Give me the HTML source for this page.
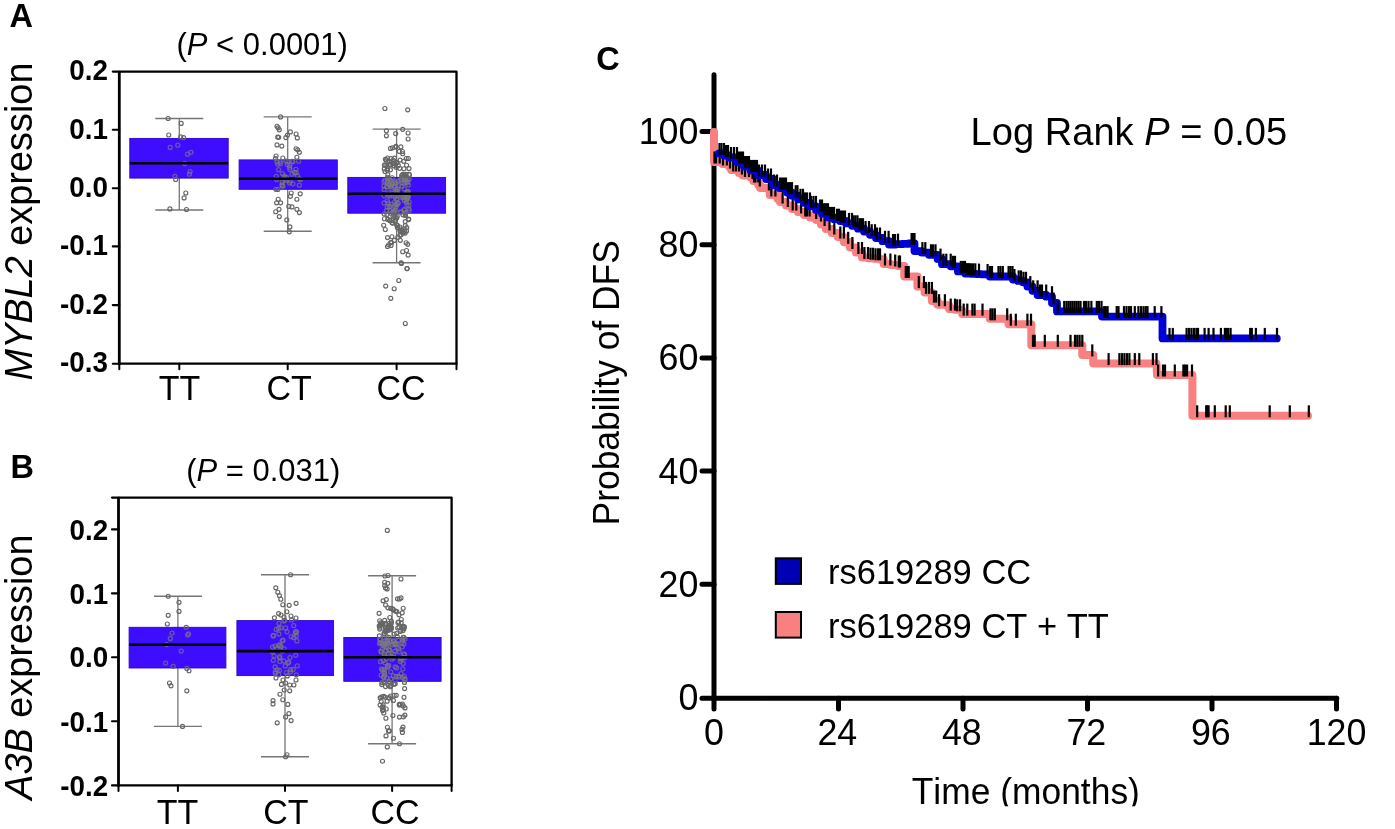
<!DOCTYPE html>
<html><head><meta charset="utf-8"><style>html,body{margin:0;padding:0;background:#fff;}svg{display:block;will-change:transform;} text{font-kerning:none;}</style></head>
<body>
<svg width="1395" height="829" viewBox="0 0 1395 829">
<rect width="1395" height="829" fill="#fff"/>
<text transform="translate(9.50,26.80) scale(1,1.035)" font-family="Liberation Sans, sans-serif" font-size="32.5" font-weight="bold">A</text>
<text transform="translate(10.60,477.80) scale(1,1.035)" font-family="Liberation Sans, sans-serif" font-size="32.5" font-weight="bold">B</text>
<text transform="translate(596.30,69.80) scale(1,1.035)" font-family="Liberation Sans, sans-serif" font-size="32.5" font-weight="bold">C</text>
<text transform="translate(262.20,54.80) scale(1,1.035)" font-family="Liberation Sans, sans-serif" font-size="31" text-anchor="middle">(<tspan font-style="italic">P</tspan> &lt; 0.0001)</text>
<text transform="translate(263.30,480.50) scale(1,1.035)" font-family="Liberation Sans, sans-serif" font-size="31" text-anchor="middle">(<tspan font-style="italic">P</tspan> = 0.031)</text>
<text transform="translate(31.60,221.50) rotate(-90) scale(1,1.035)" font-family="Liberation Sans, sans-serif" font-size="37.9" text-anchor="middle"><tspan font-style="italic">MYBL2</tspan> expression</text>
<text transform="translate(31.60,667.20) rotate(-90) scale(1,1.035)" font-family="Liberation Sans, sans-serif" font-size="37.9" text-anchor="middle"><tspan font-style="italic">A3B</tspan> expression</text>
<path d="M119.3,71.6 H456.5 V363.7" fill="none" stroke="#000" stroke-width="2.3" stroke-linejoin="round"/>
<line x1="179.3" y1="118.5" x2="179.3" y2="210" stroke="#767676" stroke-width="1.3"/>
<line x1="155.3" y1="118.5" x2="203.3" y2="118.5" stroke="#767676" stroke-width="1.4"/>
<line x1="155.3" y1="210" x2="203.3" y2="210" stroke="#767676" stroke-width="1.4"/>
<rect x="129.8" y="138.4" width="98.39999999999998" height="39.69999999999999" fill="#3e0dff" stroke="#2c06c8" stroke-width="0.9"/>
<line x1="287.7" y1="116.9" x2="287.7" y2="231.3" stroke="#767676" stroke-width="1.3"/>
<line x1="263.7" y1="116.9" x2="311.7" y2="116.9" stroke="#767676" stroke-width="1.4"/>
<line x1="263.7" y1="231.3" x2="311.7" y2="231.3" stroke="#767676" stroke-width="1.4"/>
<rect x="239.1" y="159.9" width="98.20000000000002" height="29.400000000000006" fill="#3e0dff" stroke="#2c06c8" stroke-width="0.9"/>
<line x1="396.6" y1="129.1" x2="396.6" y2="262.7" stroke="#767676" stroke-width="1.3"/>
<line x1="372.6" y1="129.1" x2="420.6" y2="129.1" stroke="#767676" stroke-width="1.4"/>
<line x1="372.6" y1="262.7" x2="420.6" y2="262.7" stroke="#767676" stroke-width="1.4"/>
<rect x="347.8" y="177.4" width="97.80000000000001" height="35.79999999999998" fill="#3e0dff" stroke="#2c06c8" stroke-width="0.9"/>
<clipPath id="ca"><rect x="130.3" y="138.9" width="97.39999999999998" height="38.69999999999999"/><rect x="239.6" y="160.4" width="97.20000000000002" height="28.400000000000006"/><rect x="348.3" y="177.9" width="96.80000000000001" height="34.79999999999998"/></clipPath>
<clipPath id="cao"><path d="M0,0 H1395 V829 H0 Z M130.3,138.9 h97.39999999999998 v38.69999999999999 h-97.39999999999998 Z M239.6,160.4 h97.20000000000002 v28.400000000000006 h-97.20000000000002 Z M348.3,177.9 h96.80000000000001 v34.79999999999998 h-96.80000000000001 Z" clip-rule="evenodd"/></clipPath>
<g clip-path="url(#cao)" fill="none" stroke="#666666" stroke-width="1.15"><circle cx="168.1" cy="118.5" r="2.0"/><circle cx="181.2" cy="123.4" r="2.0"/><circle cx="168.7" cy="135.0" r="2.0"/><circle cx="180.7" cy="136.8" r="2.0"/><circle cx="183.6" cy="137.6" r="2.0"/><circle cx="170.2" cy="147.4" r="2.0"/><circle cx="177.8" cy="145.2" r="2.0"/><circle cx="187.5" cy="154.2" r="2.0"/><circle cx="190.9" cy="152.3" r="2.0"/><circle cx="184.6" cy="163.6" r="2.0"/><circle cx="190.1" cy="171.6" r="2.0"/><circle cx="189.4" cy="174.2" r="2.0"/><circle cx="174.9" cy="176.4" r="2.0"/><circle cx="175.7" cy="179.5" r="2.0"/><circle cx="185.8" cy="193.0" r="2.0"/><circle cx="184.1" cy="197.9" r="2.0"/><circle cx="169.9" cy="208.9" r="2.0"/><circle cx="186.5" cy="209.5" r="2.0"/><circle cx="280.6" cy="116.9" r="2.0"/><circle cx="277.0" cy="126.2" r="2.0"/><circle cx="278.2" cy="127.8" r="2.0"/><circle cx="279.3" cy="129.8" r="2.0"/><circle cx="290.4" cy="131.9" r="2.0"/><circle cx="287.5" cy="135.1" r="2.0"/><circle cx="285.8" cy="137.6" r="2.0"/><circle cx="296.1" cy="134.0" r="2.0"/><circle cx="297.3" cy="137.9" r="2.0"/><circle cx="277.7" cy="137.1" r="2.0"/><circle cx="278.7" cy="137.3" r="2.0"/><circle cx="277.0" cy="144.9" r="2.0"/><circle cx="281.8" cy="146.1" r="2.0"/><circle cx="296.1" cy="148.7" r="2.0"/><circle cx="297.7" cy="149.8" r="2.0"/><circle cx="299.4" cy="152.3" r="2.0"/><circle cx="276.1" cy="156.0" r="2.0"/><circle cx="275.4" cy="158.5" r="2.0"/><circle cx="282.8" cy="158.0" r="2.0"/><circle cx="296.9" cy="157.2" r="2.0"/><circle cx="298.6" cy="161.2" r="2.0"/><circle cx="291.2" cy="193.0" r="2.0"/><circle cx="300.2" cy="193.8" r="2.0"/><circle cx="290.4" cy="196.3" r="2.0"/><circle cx="296.9" cy="199.2" r="2.0"/><circle cx="278.2" cy="199.2" r="2.0"/><circle cx="276.6" cy="202.8" r="2.0"/><circle cx="280.6" cy="202.8" r="2.0"/><circle cx="288.8" cy="206.4" r="2.0"/><circle cx="292.0" cy="206.9" r="2.0"/><circle cx="296.9" cy="209.3" r="2.0"/><circle cx="299.4" cy="212.6" r="2.0"/><circle cx="279.0" cy="209.3" r="2.0"/><circle cx="275.7" cy="211.7" r="2.0"/><circle cx="279.3" cy="216.6" r="2.0"/><circle cx="286.8" cy="219.9" r="2.0"/><circle cx="289.9" cy="226.9" r="2.0"/><circle cx="289.3" cy="231.8" r="2.0"/><circle cx="278.6" cy="169.7" r="2.0"/><circle cx="276.6" cy="179.5" r="2.0"/><circle cx="284.2" cy="176.1" r="2.0"/><circle cx="287.9" cy="161.7" r="2.0"/><circle cx="286.0" cy="161.1" r="2.0"/><circle cx="277.1" cy="162.1" r="2.0"/><circle cx="296.2" cy="172.7" r="2.0"/><circle cx="280.5" cy="163.7" r="2.0"/><circle cx="299.3" cy="178.8" r="2.0"/><circle cx="285.0" cy="177.3" r="2.0"/><circle cx="275.9" cy="189.3" r="2.0"/><circle cx="282.2" cy="185.8" r="2.0"/><circle cx="277.8" cy="164.3" r="2.0"/><circle cx="295.9" cy="169.3" r="2.0"/><circle cx="289.8" cy="165.4" r="2.0"/><circle cx="284.4" cy="179.2" r="2.0"/><circle cx="276.3" cy="176.4" r="2.0"/><circle cx="280.1" cy="161.8" r="2.0"/><circle cx="285.8" cy="180.4" r="2.0"/><circle cx="289.9" cy="169.4" r="2.0"/><circle cx="282.5" cy="173.6" r="2.0"/><circle cx="292.9" cy="183.8" r="2.0"/><circle cx="289.6" cy="167.3" r="2.0"/><circle cx="297.5" cy="175.8" r="2.0"/><circle cx="282.2" cy="181.9" r="2.0"/><circle cx="277.8" cy="189.4" r="2.0"/><circle cx="294.4" cy="172.5" r="2.0"/><circle cx="287.4" cy="164.6" r="2.0"/><circle cx="292.1" cy="161.2" r="2.0"/><circle cx="289.6" cy="182.9" r="2.0"/><circle cx="282.9" cy="186.3" r="2.0"/><circle cx="290.2" cy="180.9" r="2.0"/><circle cx="286.6" cy="177.4" r="2.0"/><circle cx="299.3" cy="185.2" r="2.0"/><circle cx="292.0" cy="174.2" r="2.0"/><circle cx="292.9" cy="161.8" r="2.0"/><circle cx="300.5" cy="179.4" r="2.0"/><circle cx="282.1" cy="184.7" r="2.0"/><circle cx="384.9" cy="108.5" r="2.0"/><circle cx="407.7" cy="109.8" r="2.0"/><circle cx="386.4" cy="130.8" r="2.0"/><circle cx="386.4" cy="135.8" r="2.0"/><circle cx="395.7" cy="133.6" r="2.0"/><circle cx="402.7" cy="129.3" r="2.0"/><circle cx="408.1" cy="133.0" r="2.0"/><circle cx="408.1" cy="139.0" r="2.0"/><circle cx="388.6" cy="244.7" r="2.0"/><circle cx="387.5" cy="246.5" r="2.0"/><circle cx="391.0" cy="245.5" r="2.0"/><circle cx="407.7" cy="244.3" r="2.0"/><circle cx="402.7" cy="251.7" r="2.0"/><circle cx="406.5" cy="250.5" r="2.0"/><circle cx="408.1" cy="255.1" r="2.0"/><circle cx="401.1" cy="262.7" r="2.0"/><circle cx="407.0" cy="268.6" r="2.0"/><circle cx="385.7" cy="286.1" r="2.0"/><circle cx="394.2" cy="288.7" r="2.0"/><circle cx="398.8" cy="280.5" r="2.0"/><circle cx="390.8" cy="298.3" r="2.0"/><circle cx="405.3" cy="323.5" r="2.0"/><circle cx="407.1" cy="268.6" r="2.0"/><circle cx="401.4" cy="263.4" r="2.0"/><circle cx="399.3" cy="151.4" r="2.0"/><circle cx="396.0" cy="146.3" r="2.0"/><circle cx="390.5" cy="148.4" r="2.0"/><circle cx="400.9" cy="146.8" r="2.0"/><circle cx="392.6" cy="147.8" r="2.0"/><circle cx="402.5" cy="151.5" r="2.0"/><circle cx="395.8" cy="147.1" r="2.0"/><circle cx="402.7" cy="153.7" r="2.0"/><circle cx="406.1" cy="174.4" r="2.0"/><circle cx="394.4" cy="163.6" r="2.0"/><circle cx="406.6" cy="165.2" r="2.0"/><circle cx="387.5" cy="177.2" r="2.0"/><circle cx="389.6" cy="161.5" r="2.0"/><circle cx="396.2" cy="162.7" r="2.0"/><circle cx="390.4" cy="169.8" r="2.0"/><circle cx="394.5" cy="158.1" r="2.0"/><circle cx="398.3" cy="165.4" r="2.0"/><circle cx="401.6" cy="177.1" r="2.0"/><circle cx="399.7" cy="168.3" r="2.0"/><circle cx="385.0" cy="171.5" r="2.0"/><circle cx="403.9" cy="176.0" r="2.0"/><circle cx="404.3" cy="175.5" r="2.0"/><circle cx="394.0" cy="165.8" r="2.0"/><circle cx="400.1" cy="160.1" r="2.0"/><circle cx="385.4" cy="159.2" r="2.0"/><circle cx="387.8" cy="162.2" r="2.0"/><circle cx="385.0" cy="164.8" r="2.0"/><circle cx="387.5" cy="158.0" r="2.0"/><circle cx="393.1" cy="160.0" r="2.0"/><circle cx="406.3" cy="158.5" r="2.0"/><circle cx="387.5" cy="170.3" r="2.0"/><circle cx="392.6" cy="163.0" r="2.0"/><circle cx="386.8" cy="165.3" r="2.0"/><circle cx="409.4" cy="175.0" r="2.0"/><circle cx="396.2" cy="167.3" r="2.0"/><circle cx="386.3" cy="159.7" r="2.0"/><circle cx="390.5" cy="164.9" r="2.0"/><circle cx="387.8" cy="174.6" r="2.0"/><circle cx="408.3" cy="158.5" r="2.0"/><circle cx="387.4" cy="168.6" r="2.0"/><circle cx="384.3" cy="168.9" r="2.0"/><circle cx="409.0" cy="168.6" r="2.0"/><circle cx="401.7" cy="175.3" r="2.0"/><circle cx="393.1" cy="163.2" r="2.0"/><circle cx="403.7" cy="161.3" r="2.0"/><circle cx="403.9" cy="168.7" r="2.0"/><circle cx="389.4" cy="164.6" r="2.0"/><circle cx="409.2" cy="174.2" r="2.0"/><circle cx="404.6" cy="175.1" r="2.0"/><circle cx="402.8" cy="174.4" r="2.0"/><circle cx="397.1" cy="162.5" r="2.0"/><circle cx="384.4" cy="165.1" r="2.0"/><circle cx="390.9" cy="158.6" r="2.0"/><circle cx="401.6" cy="186.3" r="2.0"/><circle cx="395.2" cy="211.4" r="2.0"/><circle cx="409.3" cy="210.7" r="2.0"/><circle cx="393.1" cy="211.4" r="2.0"/><circle cx="389.5" cy="184.9" r="2.0"/><circle cx="388.9" cy="184.1" r="2.0"/><circle cx="407.0" cy="199.5" r="2.0"/><circle cx="396.1" cy="207.3" r="2.0"/><circle cx="404.4" cy="200.5" r="2.0"/><circle cx="400.8" cy="180.1" r="2.0"/><circle cx="403.9" cy="209.8" r="2.0"/><circle cx="396.0" cy="204.0" r="2.0"/><circle cx="404.1" cy="183.4" r="2.0"/><circle cx="404.4" cy="189.0" r="2.0"/><circle cx="393.9" cy="212.0" r="2.0"/><circle cx="408.2" cy="191.4" r="2.0"/><circle cx="388.0" cy="203.1" r="2.0"/><circle cx="387.5" cy="181.6" r="2.0"/><circle cx="404.6" cy="209.6" r="2.0"/><circle cx="405.1" cy="182.3" r="2.0"/><circle cx="400.7" cy="212.3" r="2.0"/><circle cx="397.9" cy="189.6" r="2.0"/><circle cx="384.0" cy="181.7" r="2.0"/><circle cx="400.5" cy="212.0" r="2.0"/><circle cx="407.9" cy="196.0" r="2.0"/><circle cx="406.3" cy="192.6" r="2.0"/><circle cx="389.1" cy="206.7" r="2.0"/><circle cx="391.2" cy="186.1" r="2.0"/><circle cx="398.8" cy="185.7" r="2.0"/><circle cx="394.5" cy="186.3" r="2.0"/><circle cx="407.3" cy="181.7" r="2.0"/><circle cx="395.5" cy="189.7" r="2.0"/><circle cx="407.1" cy="198.0" r="2.0"/><circle cx="407.5" cy="192.1" r="2.0"/><circle cx="397.4" cy="195.1" r="2.0"/><circle cx="384.1" cy="195.8" r="2.0"/><circle cx="388.4" cy="192.8" r="2.0"/><circle cx="404.4" cy="177.1" r="2.0"/><circle cx="395.9" cy="183.2" r="2.0"/><circle cx="398.1" cy="203.1" r="2.0"/><circle cx="397.1" cy="188.7" r="2.0"/><circle cx="404.0" cy="197.0" r="2.0"/><circle cx="398.2" cy="180.8" r="2.0"/><circle cx="390.8" cy="185.9" r="2.0"/><circle cx="396.8" cy="204.8" r="2.0"/><circle cx="403.4" cy="197.2" r="2.0"/><circle cx="395.1" cy="209.8" r="2.0"/><circle cx="396.7" cy="199.1" r="2.0"/><circle cx="401.6" cy="195.4" r="2.0"/><circle cx="397.5" cy="193.3" r="2.0"/><circle cx="408.1" cy="194.2" r="2.0"/><circle cx="406.4" cy="202.2" r="2.0"/><circle cx="390.3" cy="210.9" r="2.0"/><circle cx="408.1" cy="197.1" r="2.0"/><circle cx="387.2" cy="207.2" r="2.0"/><circle cx="395.1" cy="181.4" r="2.0"/><circle cx="389.9" cy="179.6" r="2.0"/><circle cx="401.0" cy="179.6" r="2.0"/><circle cx="406.9" cy="205.2" r="2.0"/><circle cx="402.2" cy="182.6" r="2.0"/><circle cx="387.3" cy="200.8" r="2.0"/><circle cx="408.8" cy="208.8" r="2.0"/><circle cx="408.4" cy="184.9" r="2.0"/><circle cx="396.3" cy="191.3" r="2.0"/><circle cx="405.2" cy="212.6" r="2.0"/><circle cx="394.8" cy="182.8" r="2.0"/><circle cx="392.4" cy="195.6" r="2.0"/><circle cx="391.9" cy="184.0" r="2.0"/><circle cx="384.1" cy="203.0" r="2.0"/><circle cx="395.1" cy="196.9" r="2.0"/><circle cx="392.2" cy="177.7" r="2.0"/><circle cx="396.9" cy="199.5" r="2.0"/><circle cx="409.2" cy="179.3" r="2.0"/><circle cx="408.9" cy="205.4" r="2.0"/><circle cx="390.5" cy="180.8" r="2.0"/><circle cx="403.9" cy="178.4" r="2.0"/><circle cx="387.0" cy="186.7" r="2.0"/><circle cx="407.3" cy="192.2" r="2.0"/><circle cx="390.3" cy="206.5" r="2.0"/><circle cx="407.5" cy="182.4" r="2.0"/><circle cx="401.8" cy="197.5" r="2.0"/><circle cx="385.1" cy="180.2" r="2.0"/><circle cx="394.7" cy="201.8" r="2.0"/><circle cx="408.0" cy="179.6" r="2.0"/><circle cx="404.4" cy="199.8" r="2.0"/><circle cx="405.9" cy="180.0" r="2.0"/><circle cx="406.0" cy="179.4" r="2.0"/><circle cx="392.4" cy="193.3" r="2.0"/><circle cx="407.7" cy="196.9" r="2.0"/><circle cx="387.0" cy="186.6" r="2.0"/><circle cx="389.8" cy="196.0" r="2.0"/><circle cx="387.8" cy="180.9" r="2.0"/><circle cx="388.8" cy="178.8" r="2.0"/><circle cx="391.5" cy="188.2" r="2.0"/><circle cx="391.1" cy="204.3" r="2.0"/><circle cx="388.2" cy="195.0" r="2.0"/><circle cx="384.1" cy="189.5" r="2.0"/><circle cx="384.0" cy="186.0" r="2.0"/><circle cx="397.9" cy="203.4" r="2.0"/><circle cx="395.9" cy="183.8" r="2.0"/><circle cx="386.4" cy="210.6" r="2.0"/><circle cx="394.8" cy="206.5" r="2.0"/><circle cx="405.3" cy="194.8" r="2.0"/><circle cx="396.8" cy="191.2" r="2.0"/><circle cx="409.1" cy="201.8" r="2.0"/><circle cx="405.2" cy="221.6" r="2.0"/><circle cx="400.1" cy="230.7" r="2.0"/><circle cx="392.6" cy="223.1" r="2.0"/><circle cx="387.0" cy="214.4" r="2.0"/><circle cx="402.9" cy="214.8" r="2.0"/><circle cx="387.8" cy="219.4" r="2.0"/><circle cx="405.5" cy="215.1" r="2.0"/><circle cx="401.0" cy="234.8" r="2.0"/><circle cx="389.9" cy="220.0" r="2.0"/><circle cx="395.5" cy="220.3" r="2.0"/><circle cx="395.2" cy="216.9" r="2.0"/><circle cx="408.6" cy="219.6" r="2.0"/><circle cx="397.8" cy="237.3" r="2.0"/><circle cx="408.7" cy="219.1" r="2.0"/><circle cx="392.9" cy="220.7" r="2.0"/><circle cx="393.5" cy="213.0" r="2.0"/><circle cx="396.7" cy="224.9" r="2.0"/><circle cx="396.7" cy="218.0" r="2.0"/><circle cx="390.5" cy="213.1" r="2.0"/><circle cx="394.0" cy="215.2" r="2.0"/><circle cx="384.2" cy="214.0" r="2.0"/><circle cx="389.7" cy="220.6" r="2.0"/><circle cx="397.4" cy="227.6" r="2.0"/><circle cx="400.7" cy="231.8" r="2.0"/><circle cx="406.5" cy="230.9" r="2.0"/><circle cx="392.1" cy="222.7" r="2.0"/><circle cx="387.5" cy="237.6" r="2.0"/><circle cx="400.3" cy="231.1" r="2.0"/><circle cx="405.3" cy="214.1" r="2.0"/><circle cx="399.9" cy="235.3" r="2.0"/><circle cx="404.7" cy="231.3" r="2.0"/><circle cx="397.2" cy="216.5" r="2.0"/><circle cx="405.3" cy="225.6" r="2.0"/><circle cx="405.1" cy="233.1" r="2.0"/><circle cx="406.8" cy="227.6" r="2.0"/><circle cx="401.6" cy="230.1" r="2.0"/><circle cx="384.4" cy="218.7" r="2.0"/><circle cx="393.0" cy="216.3" r="2.0"/><circle cx="405.3" cy="215.6" r="2.0"/><circle cx="399.9" cy="227.0" r="2.0"/><circle cx="401.3" cy="228.7" r="2.0"/><circle cx="383.7" cy="225.2" r="2.0"/><circle cx="403.1" cy="232.9" r="2.0"/><circle cx="397.5" cy="225.6" r="2.0"/><circle cx="385.3" cy="229.5" r="2.0"/><circle cx="391.6" cy="242.6" r="2.0"/><circle cx="391.9" cy="236.7" r="2.0"/><circle cx="390.7" cy="242.6" r="2.0"/><circle cx="406.1" cy="242.7" r="2.0"/><circle cx="394.3" cy="240.4" r="2.0"/><circle cx="400.3" cy="240.3" r="2.0"/></g>
<g clip-path="url(#ca)" fill="none" stroke="#7c7c7c" stroke-opacity="0.68" stroke-width="1.3"><circle cx="168.1" cy="118.5" r="2.0"/><circle cx="181.2" cy="123.4" r="2.0"/><circle cx="168.7" cy="135.0" r="2.0"/><circle cx="180.7" cy="136.8" r="2.0"/><circle cx="183.6" cy="137.6" r="2.0"/><circle cx="170.2" cy="147.4" r="2.0"/><circle cx="177.8" cy="145.2" r="2.0"/><circle cx="187.5" cy="154.2" r="2.0"/><circle cx="190.9" cy="152.3" r="2.0"/><circle cx="184.6" cy="163.6" r="2.0"/><circle cx="190.1" cy="171.6" r="2.0"/><circle cx="189.4" cy="174.2" r="2.0"/><circle cx="174.9" cy="176.4" r="2.0"/><circle cx="175.7" cy="179.5" r="2.0"/><circle cx="185.8" cy="193.0" r="2.0"/><circle cx="184.1" cy="197.9" r="2.0"/><circle cx="169.9" cy="208.9" r="2.0"/><circle cx="186.5" cy="209.5" r="2.0"/><circle cx="280.6" cy="116.9" r="2.0"/><circle cx="277.0" cy="126.2" r="2.0"/><circle cx="278.2" cy="127.8" r="2.0"/><circle cx="279.3" cy="129.8" r="2.0"/><circle cx="290.4" cy="131.9" r="2.0"/><circle cx="287.5" cy="135.1" r="2.0"/><circle cx="285.8" cy="137.6" r="2.0"/><circle cx="296.1" cy="134.0" r="2.0"/><circle cx="297.3" cy="137.9" r="2.0"/><circle cx="277.7" cy="137.1" r="2.0"/><circle cx="278.7" cy="137.3" r="2.0"/><circle cx="277.0" cy="144.9" r="2.0"/><circle cx="281.8" cy="146.1" r="2.0"/><circle cx="296.1" cy="148.7" r="2.0"/><circle cx="297.7" cy="149.8" r="2.0"/><circle cx="299.4" cy="152.3" r="2.0"/><circle cx="276.1" cy="156.0" r="2.0"/><circle cx="275.4" cy="158.5" r="2.0"/><circle cx="282.8" cy="158.0" r="2.0"/><circle cx="296.9" cy="157.2" r="2.0"/><circle cx="298.6" cy="161.2" r="2.0"/><circle cx="291.2" cy="193.0" r="2.0"/><circle cx="300.2" cy="193.8" r="2.0"/><circle cx="290.4" cy="196.3" r="2.0"/><circle cx="296.9" cy="199.2" r="2.0"/><circle cx="278.2" cy="199.2" r="2.0"/><circle cx="276.6" cy="202.8" r="2.0"/><circle cx="280.6" cy="202.8" r="2.0"/><circle cx="288.8" cy="206.4" r="2.0"/><circle cx="292.0" cy="206.9" r="2.0"/><circle cx="296.9" cy="209.3" r="2.0"/><circle cx="299.4" cy="212.6" r="2.0"/><circle cx="279.0" cy="209.3" r="2.0"/><circle cx="275.7" cy="211.7" r="2.0"/><circle cx="279.3" cy="216.6" r="2.0"/><circle cx="286.8" cy="219.9" r="2.0"/><circle cx="289.9" cy="226.9" r="2.0"/><circle cx="289.3" cy="231.8" r="2.0"/><circle cx="278.6" cy="169.7" r="2.0"/><circle cx="276.6" cy="179.5" r="2.0"/><circle cx="284.2" cy="176.1" r="2.0"/><circle cx="287.9" cy="161.7" r="2.0"/><circle cx="286.0" cy="161.1" r="2.0"/><circle cx="277.1" cy="162.1" r="2.0"/><circle cx="296.2" cy="172.7" r="2.0"/><circle cx="280.5" cy="163.7" r="2.0"/><circle cx="299.3" cy="178.8" r="2.0"/><circle cx="285.0" cy="177.3" r="2.0"/><circle cx="275.9" cy="189.3" r="2.0"/><circle cx="282.2" cy="185.8" r="2.0"/><circle cx="277.8" cy="164.3" r="2.0"/><circle cx="295.9" cy="169.3" r="2.0"/><circle cx="289.8" cy="165.4" r="2.0"/><circle cx="284.4" cy="179.2" r="2.0"/><circle cx="276.3" cy="176.4" r="2.0"/><circle cx="280.1" cy="161.8" r="2.0"/><circle cx="285.8" cy="180.4" r="2.0"/><circle cx="289.9" cy="169.4" r="2.0"/><circle cx="282.5" cy="173.6" r="2.0"/><circle cx="292.9" cy="183.8" r="2.0"/><circle cx="289.6" cy="167.3" r="2.0"/><circle cx="297.5" cy="175.8" r="2.0"/><circle cx="282.2" cy="181.9" r="2.0"/><circle cx="277.8" cy="189.4" r="2.0"/><circle cx="294.4" cy="172.5" r="2.0"/><circle cx="287.4" cy="164.6" r="2.0"/><circle cx="292.1" cy="161.2" r="2.0"/><circle cx="289.6" cy="182.9" r="2.0"/><circle cx="282.9" cy="186.3" r="2.0"/><circle cx="290.2" cy="180.9" r="2.0"/><circle cx="286.6" cy="177.4" r="2.0"/><circle cx="299.3" cy="185.2" r="2.0"/><circle cx="292.0" cy="174.2" r="2.0"/><circle cx="292.9" cy="161.8" r="2.0"/><circle cx="300.5" cy="179.4" r="2.0"/><circle cx="282.1" cy="184.7" r="2.0"/><circle cx="384.9" cy="108.5" r="2.0"/><circle cx="407.7" cy="109.8" r="2.0"/><circle cx="386.4" cy="130.8" r="2.0"/><circle cx="386.4" cy="135.8" r="2.0"/><circle cx="395.7" cy="133.6" r="2.0"/><circle cx="402.7" cy="129.3" r="2.0"/><circle cx="408.1" cy="133.0" r="2.0"/><circle cx="408.1" cy="139.0" r="2.0"/><circle cx="388.6" cy="244.7" r="2.0"/><circle cx="387.5" cy="246.5" r="2.0"/><circle cx="391.0" cy="245.5" r="2.0"/><circle cx="407.7" cy="244.3" r="2.0"/><circle cx="402.7" cy="251.7" r="2.0"/><circle cx="406.5" cy="250.5" r="2.0"/><circle cx="408.1" cy="255.1" r="2.0"/><circle cx="401.1" cy="262.7" r="2.0"/><circle cx="407.0" cy="268.6" r="2.0"/><circle cx="385.7" cy="286.1" r="2.0"/><circle cx="394.2" cy="288.7" r="2.0"/><circle cx="398.8" cy="280.5" r="2.0"/><circle cx="390.8" cy="298.3" r="2.0"/><circle cx="405.3" cy="323.5" r="2.0"/><circle cx="407.1" cy="268.6" r="2.0"/><circle cx="401.4" cy="263.4" r="2.0"/><circle cx="399.3" cy="151.4" r="2.0"/><circle cx="396.0" cy="146.3" r="2.0"/><circle cx="390.5" cy="148.4" r="2.0"/><circle cx="400.9" cy="146.8" r="2.0"/><circle cx="392.6" cy="147.8" r="2.0"/><circle cx="402.5" cy="151.5" r="2.0"/><circle cx="395.8" cy="147.1" r="2.0"/><circle cx="402.7" cy="153.7" r="2.0"/><circle cx="406.1" cy="174.4" r="2.0"/><circle cx="394.4" cy="163.6" r="2.0"/><circle cx="406.6" cy="165.2" r="2.0"/><circle cx="387.5" cy="177.2" r="2.0"/><circle cx="389.6" cy="161.5" r="2.0"/><circle cx="396.2" cy="162.7" r="2.0"/><circle cx="390.4" cy="169.8" r="2.0"/><circle cx="394.5" cy="158.1" r="2.0"/><circle cx="398.3" cy="165.4" r="2.0"/><circle cx="401.6" cy="177.1" r="2.0"/><circle cx="399.7" cy="168.3" r="2.0"/><circle cx="385.0" cy="171.5" r="2.0"/><circle cx="403.9" cy="176.0" r="2.0"/><circle cx="404.3" cy="175.5" r="2.0"/><circle cx="394.0" cy="165.8" r="2.0"/><circle cx="400.1" cy="160.1" r="2.0"/><circle cx="385.4" cy="159.2" r="2.0"/><circle cx="387.8" cy="162.2" r="2.0"/><circle cx="385.0" cy="164.8" r="2.0"/><circle cx="387.5" cy="158.0" r="2.0"/><circle cx="393.1" cy="160.0" r="2.0"/><circle cx="406.3" cy="158.5" r="2.0"/><circle cx="387.5" cy="170.3" r="2.0"/><circle cx="392.6" cy="163.0" r="2.0"/><circle cx="386.8" cy="165.3" r="2.0"/><circle cx="409.4" cy="175.0" r="2.0"/><circle cx="396.2" cy="167.3" r="2.0"/><circle cx="386.3" cy="159.7" r="2.0"/><circle cx="390.5" cy="164.9" r="2.0"/><circle cx="387.8" cy="174.6" r="2.0"/><circle cx="408.3" cy="158.5" r="2.0"/><circle cx="387.4" cy="168.6" r="2.0"/><circle cx="384.3" cy="168.9" r="2.0"/><circle cx="409.0" cy="168.6" r="2.0"/><circle cx="401.7" cy="175.3" r="2.0"/><circle cx="393.1" cy="163.2" r="2.0"/><circle cx="403.7" cy="161.3" r="2.0"/><circle cx="403.9" cy="168.7" r="2.0"/><circle cx="389.4" cy="164.6" r="2.0"/><circle cx="409.2" cy="174.2" r="2.0"/><circle cx="404.6" cy="175.1" r="2.0"/><circle cx="402.8" cy="174.4" r="2.0"/><circle cx="397.1" cy="162.5" r="2.0"/><circle cx="384.4" cy="165.1" r="2.0"/><circle cx="390.9" cy="158.6" r="2.0"/><circle cx="401.6" cy="186.3" r="2.0"/><circle cx="395.2" cy="211.4" r="2.0"/><circle cx="409.3" cy="210.7" r="2.0"/><circle cx="393.1" cy="211.4" r="2.0"/><circle cx="389.5" cy="184.9" r="2.0"/><circle cx="388.9" cy="184.1" r="2.0"/><circle cx="407.0" cy="199.5" r="2.0"/><circle cx="396.1" cy="207.3" r="2.0"/><circle cx="404.4" cy="200.5" r="2.0"/><circle cx="400.8" cy="180.1" r="2.0"/><circle cx="403.9" cy="209.8" r="2.0"/><circle cx="396.0" cy="204.0" r="2.0"/><circle cx="404.1" cy="183.4" r="2.0"/><circle cx="404.4" cy="189.0" r="2.0"/><circle cx="393.9" cy="212.0" r="2.0"/><circle cx="408.2" cy="191.4" r="2.0"/><circle cx="388.0" cy="203.1" r="2.0"/><circle cx="387.5" cy="181.6" r="2.0"/><circle cx="404.6" cy="209.6" r="2.0"/><circle cx="405.1" cy="182.3" r="2.0"/><circle cx="400.7" cy="212.3" r="2.0"/><circle cx="397.9" cy="189.6" r="2.0"/><circle cx="384.0" cy="181.7" r="2.0"/><circle cx="400.5" cy="212.0" r="2.0"/><circle cx="407.9" cy="196.0" r="2.0"/><circle cx="406.3" cy="192.6" r="2.0"/><circle cx="389.1" cy="206.7" r="2.0"/><circle cx="391.2" cy="186.1" r="2.0"/><circle cx="398.8" cy="185.7" r="2.0"/><circle cx="394.5" cy="186.3" r="2.0"/><circle cx="407.3" cy="181.7" r="2.0"/><circle cx="395.5" cy="189.7" r="2.0"/><circle cx="407.1" cy="198.0" r="2.0"/><circle cx="407.5" cy="192.1" r="2.0"/><circle cx="397.4" cy="195.1" r="2.0"/><circle cx="384.1" cy="195.8" r="2.0"/><circle cx="388.4" cy="192.8" r="2.0"/><circle cx="404.4" cy="177.1" r="2.0"/><circle cx="395.9" cy="183.2" r="2.0"/><circle cx="398.1" cy="203.1" r="2.0"/><circle cx="397.1" cy="188.7" r="2.0"/><circle cx="404.0" cy="197.0" r="2.0"/><circle cx="398.2" cy="180.8" r="2.0"/><circle cx="390.8" cy="185.9" r="2.0"/><circle cx="396.8" cy="204.8" r="2.0"/><circle cx="403.4" cy="197.2" r="2.0"/><circle cx="395.1" cy="209.8" r="2.0"/><circle cx="396.7" cy="199.1" r="2.0"/><circle cx="401.6" cy="195.4" r="2.0"/><circle cx="397.5" cy="193.3" r="2.0"/><circle cx="408.1" cy="194.2" r="2.0"/><circle cx="406.4" cy="202.2" r="2.0"/><circle cx="390.3" cy="210.9" r="2.0"/><circle cx="408.1" cy="197.1" r="2.0"/><circle cx="387.2" cy="207.2" r="2.0"/><circle cx="395.1" cy="181.4" r="2.0"/><circle cx="389.9" cy="179.6" r="2.0"/><circle cx="401.0" cy="179.6" r="2.0"/><circle cx="406.9" cy="205.2" r="2.0"/><circle cx="402.2" cy="182.6" r="2.0"/><circle cx="387.3" cy="200.8" r="2.0"/><circle cx="408.8" cy="208.8" r="2.0"/><circle cx="408.4" cy="184.9" r="2.0"/><circle cx="396.3" cy="191.3" r="2.0"/><circle cx="405.2" cy="212.6" r="2.0"/><circle cx="394.8" cy="182.8" r="2.0"/><circle cx="392.4" cy="195.6" r="2.0"/><circle cx="391.9" cy="184.0" r="2.0"/><circle cx="384.1" cy="203.0" r="2.0"/><circle cx="395.1" cy="196.9" r="2.0"/><circle cx="392.2" cy="177.7" r="2.0"/><circle cx="396.9" cy="199.5" r="2.0"/><circle cx="409.2" cy="179.3" r="2.0"/><circle cx="408.9" cy="205.4" r="2.0"/><circle cx="390.5" cy="180.8" r="2.0"/><circle cx="403.9" cy="178.4" r="2.0"/><circle cx="387.0" cy="186.7" r="2.0"/><circle cx="407.3" cy="192.2" r="2.0"/><circle cx="390.3" cy="206.5" r="2.0"/><circle cx="407.5" cy="182.4" r="2.0"/><circle cx="401.8" cy="197.5" r="2.0"/><circle cx="385.1" cy="180.2" r="2.0"/><circle cx="394.7" cy="201.8" r="2.0"/><circle cx="408.0" cy="179.6" r="2.0"/><circle cx="404.4" cy="199.8" r="2.0"/><circle cx="405.9" cy="180.0" r="2.0"/><circle cx="406.0" cy="179.4" r="2.0"/><circle cx="392.4" cy="193.3" r="2.0"/><circle cx="407.7" cy="196.9" r="2.0"/><circle cx="387.0" cy="186.6" r="2.0"/><circle cx="389.8" cy="196.0" r="2.0"/><circle cx="387.8" cy="180.9" r="2.0"/><circle cx="388.8" cy="178.8" r="2.0"/><circle cx="391.5" cy="188.2" r="2.0"/><circle cx="391.1" cy="204.3" r="2.0"/><circle cx="388.2" cy="195.0" r="2.0"/><circle cx="384.1" cy="189.5" r="2.0"/><circle cx="384.0" cy="186.0" r="2.0"/><circle cx="397.9" cy="203.4" r="2.0"/><circle cx="395.9" cy="183.8" r="2.0"/><circle cx="386.4" cy="210.6" r="2.0"/><circle cx="394.8" cy="206.5" r="2.0"/><circle cx="405.3" cy="194.8" r="2.0"/><circle cx="396.8" cy="191.2" r="2.0"/><circle cx="409.1" cy="201.8" r="2.0"/><circle cx="405.2" cy="221.6" r="2.0"/><circle cx="400.1" cy="230.7" r="2.0"/><circle cx="392.6" cy="223.1" r="2.0"/><circle cx="387.0" cy="214.4" r="2.0"/><circle cx="402.9" cy="214.8" r="2.0"/><circle cx="387.8" cy="219.4" r="2.0"/><circle cx="405.5" cy="215.1" r="2.0"/><circle cx="401.0" cy="234.8" r="2.0"/><circle cx="389.9" cy="220.0" r="2.0"/><circle cx="395.5" cy="220.3" r="2.0"/><circle cx="395.2" cy="216.9" r="2.0"/><circle cx="408.6" cy="219.6" r="2.0"/><circle cx="397.8" cy="237.3" r="2.0"/><circle cx="408.7" cy="219.1" r="2.0"/><circle cx="392.9" cy="220.7" r="2.0"/><circle cx="393.5" cy="213.0" r="2.0"/><circle cx="396.7" cy="224.9" r="2.0"/><circle cx="396.7" cy="218.0" r="2.0"/><circle cx="390.5" cy="213.1" r="2.0"/><circle cx="394.0" cy="215.2" r="2.0"/><circle cx="384.2" cy="214.0" r="2.0"/><circle cx="389.7" cy="220.6" r="2.0"/><circle cx="397.4" cy="227.6" r="2.0"/><circle cx="400.7" cy="231.8" r="2.0"/><circle cx="406.5" cy="230.9" r="2.0"/><circle cx="392.1" cy="222.7" r="2.0"/><circle cx="387.5" cy="237.6" r="2.0"/><circle cx="400.3" cy="231.1" r="2.0"/><circle cx="405.3" cy="214.1" r="2.0"/><circle cx="399.9" cy="235.3" r="2.0"/><circle cx="404.7" cy="231.3" r="2.0"/><circle cx="397.2" cy="216.5" r="2.0"/><circle cx="405.3" cy="225.6" r="2.0"/><circle cx="405.1" cy="233.1" r="2.0"/><circle cx="406.8" cy="227.6" r="2.0"/><circle cx="401.6" cy="230.1" r="2.0"/><circle cx="384.4" cy="218.7" r="2.0"/><circle cx="393.0" cy="216.3" r="2.0"/><circle cx="405.3" cy="215.6" r="2.0"/><circle cx="399.9" cy="227.0" r="2.0"/><circle cx="401.3" cy="228.7" r="2.0"/><circle cx="383.7" cy="225.2" r="2.0"/><circle cx="403.1" cy="232.9" r="2.0"/><circle cx="397.5" cy="225.6" r="2.0"/><circle cx="385.3" cy="229.5" r="2.0"/><circle cx="391.6" cy="242.6" r="2.0"/><circle cx="391.9" cy="236.7" r="2.0"/><circle cx="390.7" cy="242.6" r="2.0"/><circle cx="406.1" cy="242.7" r="2.0"/><circle cx="394.3" cy="240.4" r="2.0"/><circle cx="400.3" cy="240.3" r="2.0"/></g>
<line x1="129.8" y1="163.3" x2="228.2" y2="163.3" stroke="#000" stroke-width="2.6"/>
<line x1="239.1" y1="178.7" x2="337.3" y2="178.7" stroke="#000" stroke-width="2.6"/>
<line x1="347.8" y1="193.7" x2="445.6" y2="193.7" stroke="#000" stroke-width="2.6"/>
<line x1="119.3" y1="71.6" x2="119.3" y2="364.7" stroke="#000" stroke-width="2.8"/>
<line x1="118.1" y1="363.7" x2="457.5" y2="363.7" stroke="#000" stroke-width="2.3"/>
<line x1="112.8" y1="71.6" x2="119.3" y2="71.6" stroke="#000" stroke-width="2.1" stroke-linecap="round"/>
<text transform="translate(108.00,80.30) scale(1,1.035)" font-family="Liberation Sans, sans-serif" font-size="27.8" font-weight="bold" text-anchor="end">0.2</text>
<line x1="112.8" y1="129.8" x2="119.3" y2="129.8" stroke="#000" stroke-width="2.1" stroke-linecap="round"/>
<text transform="translate(108.00,138.50) scale(1,1.035)" font-family="Liberation Sans, sans-serif" font-size="27.8" font-weight="bold" text-anchor="end">0.1</text>
<line x1="112.8" y1="188.2" x2="119.3" y2="188.2" stroke="#000" stroke-width="2.1" stroke-linecap="round"/>
<text transform="translate(108.00,196.90) scale(1,1.035)" font-family="Liberation Sans, sans-serif" font-size="27.8" font-weight="bold" text-anchor="end">0.0</text>
<line x1="112.8" y1="246.4" x2="119.3" y2="246.4" stroke="#000" stroke-width="2.1" stroke-linecap="round"/>
<text transform="translate(108.00,255.10) scale(1,1.035)" font-family="Liberation Sans, sans-serif" font-size="27.8" font-weight="bold" text-anchor="end">-0.1</text>
<line x1="112.8" y1="305.1" x2="119.3" y2="305.1" stroke="#000" stroke-width="2.1" stroke-linecap="round"/>
<text transform="translate(108.00,313.80) scale(1,1.035)" font-family="Liberation Sans, sans-serif" font-size="27.8" font-weight="bold" text-anchor="end">-0.2</text>
<line x1="112.8" y1="363.7" x2="119.3" y2="363.7" stroke="#000" stroke-width="2.1" stroke-linecap="round"/>
<text transform="translate(108.00,372.40) scale(1,1.035)" font-family="Liberation Sans, sans-serif" font-size="27.8" font-weight="bold" text-anchor="end">-0.3</text>
<line x1="119.3" y1="363.7" x2="119.3" y2="369.2" stroke="#000" stroke-width="2" stroke-linecap="round"/>
<line x1="179.3" y1="363.7" x2="179.3" y2="369.2" stroke="#000" stroke-width="2" stroke-linecap="round"/>
<line x1="287.7" y1="363.7" x2="287.7" y2="369.2" stroke="#000" stroke-width="2" stroke-linecap="round"/>
<line x1="396.6" y1="363.7" x2="396.6" y2="369.2" stroke="#000" stroke-width="2" stroke-linecap="round"/>
<line x1="456.5" y1="363.7" x2="456.5" y2="369.2" stroke="#000" stroke-width="2" stroke-linecap="round"/>
<text transform="translate(179.40,400.30) scale(1,1.035)" font-family="Liberation Sans, sans-serif" font-size="34" text-anchor="middle">TT</text>
<text transform="translate(289.20,400.30) scale(1,1.035)" font-family="Liberation Sans, sans-serif" font-size="34" text-anchor="middle">CT</text>
<text transform="translate(401.00,400.30) scale(1,1.035)" font-family="Liberation Sans, sans-serif" font-size="34" text-anchor="middle">CC</text>
<path d="M118.5,497.6 H451.6 V785.4" fill="none" stroke="#000" stroke-width="2.3" stroke-linejoin="round"/>
<line x1="177.9" y1="596.2" x2="177.9" y2="726.4" stroke="#767676" stroke-width="1.3"/>
<line x1="153.9" y1="596.2" x2="201.9" y2="596.2" stroke="#767676" stroke-width="1.4"/>
<line x1="153.9" y1="726.4" x2="201.9" y2="726.4" stroke="#767676" stroke-width="1.4"/>
<rect x="129.1" y="627.3" width="96.80000000000001" height="40.700000000000045" fill="#3e0dff" stroke="#2c06c8" stroke-width="0.9"/>
<line x1="285" y1="574.7" x2="285" y2="756.7" stroke="#767676" stroke-width="1.3"/>
<line x1="261" y1="574.7" x2="309" y2="574.7" stroke="#767676" stroke-width="1.4"/>
<line x1="261" y1="756.7" x2="309" y2="756.7" stroke="#767676" stroke-width="1.4"/>
<rect x="236.9" y="620.6" width="96.70000000000002" height="55.0" fill="#3e0dff" stroke="#2c06c8" stroke-width="0.9"/>
<line x1="392.1" y1="575.8" x2="392.1" y2="743.7" stroke="#767676" stroke-width="1.3"/>
<line x1="368.1" y1="575.8" x2="416.1" y2="575.8" stroke="#767676" stroke-width="1.4"/>
<line x1="368.1" y1="743.7" x2="416.1" y2="743.7" stroke="#767676" stroke-width="1.4"/>
<rect x="343.8" y="637.5" width="97.30000000000001" height="43.799999999999955" fill="#3e0dff" stroke="#2c06c8" stroke-width="0.9"/>
<clipPath id="cb"><rect x="129.6" y="627.8" width="95.80000000000001" height="39.700000000000045"/><rect x="237.4" y="621.1" width="95.70000000000002" height="54.0"/><rect x="344.3" y="638.0" width="96.30000000000001" height="42.799999999999955"/></clipPath>
<clipPath id="cbo"><path d="M0,0 H1395 V829 H0 Z M129.6,627.8 h95.80000000000001 v39.700000000000045 h-95.80000000000001 Z M237.4,621.1 h95.70000000000002 v54.0 h-95.70000000000002 Z M344.3,638.0 h96.30000000000001 v42.799999999999955 h-96.30000000000001 Z" clip-rule="evenodd"/></clipPath>
<g clip-path="url(#cbo)" fill="none" stroke="#666666" stroke-width="1.15"><circle cx="168.2" cy="596.2" r="2.0"/><circle cx="179.0" cy="602.3" r="2.0"/><circle cx="179.0" cy="611.4" r="2.0"/><circle cx="168.2" cy="615.3" r="2.0"/><circle cx="167.3" cy="624.0" r="2.0"/><circle cx="186.2" cy="627.3" r="2.0"/><circle cx="172.1" cy="633.1" r="2.0"/><circle cx="170.3" cy="638.5" r="2.0"/><circle cx="187.7" cy="634.9" r="2.0"/><circle cx="188.6" cy="633.8" r="2.0"/><circle cx="166.6" cy="644.6" r="2.0"/><circle cx="181.2" cy="651.1" r="2.0"/><circle cx="165.6" cy="663.1" r="2.0"/><circle cx="173.2" cy="666.3" r="2.0"/><circle cx="186.8" cy="668.5" r="2.0"/><circle cx="189.0" cy="670.7" r="2.0"/><circle cx="169.5" cy="683.0" r="2.0"/><circle cx="171.0" cy="685.8" r="2.0"/><circle cx="186.8" cy="690.8" r="2.0"/><circle cx="182.5" cy="726.4" r="2.0"/><circle cx="290.6" cy="574.7" r="2.0"/><circle cx="275.8" cy="587.8" r="2.0"/><circle cx="277.8" cy="592.2" r="2.0"/><circle cx="279.4" cy="595.6" r="2.0"/><circle cx="280.8" cy="599.2" r="2.0"/><circle cx="282.8" cy="604.7" r="2.0"/><circle cx="289.2" cy="605.3" r="2.0"/><circle cx="296.1" cy="603.3" r="2.0"/><circle cx="278.6" cy="613.6" r="2.0"/><circle cx="274.4" cy="617.8" r="2.0"/><circle cx="286.9" cy="611.7" r="2.0"/><circle cx="284.0" cy="617.0" r="2.0"/><circle cx="281.0" cy="615.0" r="2.0"/><circle cx="291.0" cy="616.0" r="2.0"/><circle cx="296.0" cy="618.0" r="2.0"/><circle cx="281.4" cy="684.4" r="2.0"/><circle cx="285.6" cy="683.0" r="2.0"/><circle cx="289.7" cy="685.0" r="2.0"/><circle cx="293.9" cy="685.0" r="2.0"/><circle cx="284.2" cy="690.0" r="2.0"/><circle cx="289.7" cy="690.8" r="2.0"/><circle cx="280.0" cy="694.2" r="2.0"/><circle cx="282.8" cy="699.7" r="2.0"/><circle cx="273.0" cy="700.6" r="2.0"/><circle cx="273.0" cy="703.9" r="2.0"/><circle cx="287.8" cy="704.4" r="2.0"/><circle cx="288.9" cy="713.6" r="2.0"/><circle cx="285.6" cy="716.9" r="2.0"/><circle cx="291.1" cy="720.6" r="2.0"/><circle cx="277.2" cy="722.8" r="2.0"/><circle cx="287.0" cy="754.7" r="2.0"/><circle cx="285.6" cy="756.7" r="2.0"/><circle cx="276.0" cy="678.0" r="2.0"/><circle cx="296.0" cy="680.0" r="2.0"/><circle cx="283.0" cy="680.0" r="2.0"/><circle cx="288.0" cy="663.0" r="2.0"/><circle cx="274.0" cy="656.0" r="2.0"/><circle cx="278.6" cy="628.3" r="2.0"/><circle cx="279.9" cy="661.6" r="2.0"/><circle cx="272.3" cy="651.8" r="2.0"/><circle cx="279.0" cy="623.4" r="2.0"/><circle cx="290.0" cy="657.6" r="2.0"/><circle cx="279.6" cy="657.8" r="2.0"/><circle cx="284.1" cy="648.9" r="2.0"/><circle cx="275.1" cy="646.1" r="2.0"/><circle cx="277.2" cy="670.0" r="2.0"/><circle cx="296.3" cy="674.8" r="2.0"/><circle cx="283.9" cy="621.0" r="2.0"/><circle cx="297.2" cy="665.9" r="2.0"/><circle cx="279.0" cy="645.2" r="2.0"/><circle cx="296.6" cy="631.8" r="2.0"/><circle cx="287.1" cy="631.8" r="2.0"/><circle cx="285.6" cy="627.9" r="2.0"/><circle cx="275.4" cy="673.4" r="2.0"/><circle cx="285.2" cy="665.9" r="2.0"/><circle cx="290.3" cy="669.7" r="2.0"/><circle cx="295.3" cy="633.0" r="2.0"/><circle cx="272.6" cy="647.2" r="2.0"/><circle cx="284.8" cy="620.2" r="2.0"/><circle cx="279.9" cy="645.2" r="2.0"/><circle cx="280.9" cy="627.9" r="2.0"/><circle cx="293.8" cy="637.7" r="2.0"/><circle cx="291.5" cy="620.1" r="2.0"/><circle cx="275.1" cy="667.0" r="2.0"/><circle cx="290.5" cy="671.9" r="2.0"/><circle cx="279.5" cy="670.5" r="2.0"/><circle cx="282.2" cy="640.8" r="2.0"/><circle cx="287.3" cy="675.9" r="2.0"/><circle cx="283.1" cy="640.2" r="2.0"/><circle cx="273.3" cy="635.4" r="2.0"/><circle cx="293.7" cy="625.7" r="2.0"/><circle cx="296.3" cy="636.0" r="2.0"/><circle cx="278.9" cy="634.0" r="2.0"/><circle cx="276.9" cy="648.6" r="2.0"/><circle cx="296.9" cy="640.9" r="2.0"/><circle cx="293.1" cy="669.5" r="2.0"/><circle cx="295.7" cy="655.3" r="2.0"/><circle cx="286.3" cy="672.7" r="2.0"/><circle cx="273.3" cy="660.3" r="2.0"/><circle cx="283.7" cy="661.0" r="2.0"/><circle cx="288.8" cy="662.1" r="2.0"/><circle cx="273.3" cy="636.0" r="2.0"/><circle cx="275.3" cy="671.9" r="2.0"/><circle cx="280.9" cy="646.4" r="2.0"/><circle cx="291.2" cy="636.7" r="2.0"/><circle cx="278.8" cy="674.7" r="2.0"/><circle cx="279.8" cy="656.7" r="2.0"/><circle cx="282.3" cy="651.2" r="2.0"/><circle cx="276.2" cy="629.4" r="2.0"/><circle cx="295.6" cy="631.6" r="2.0"/><circle cx="387.3" cy="530.4" r="2.0"/><circle cx="382.5" cy="761.2" r="2.0"/><circle cx="387.3" cy="746.9" r="2.0"/><circle cx="385.0" cy="576.0" r="2.0"/><circle cx="388.0" cy="575.5" r="2.0"/><circle cx="401.0" cy="579.0" r="2.0"/><circle cx="399.5" cy="743.7" r="2.0"/><circle cx="387.1" cy="588.9" r="2.0"/><circle cx="401.0" cy="597.9" r="2.0"/><circle cx="385.6" cy="587.9" r="2.0"/><circle cx="384.7" cy="582.2" r="2.0"/><circle cx="384.7" cy="585.5" r="2.0"/><circle cx="387.8" cy="583.3" r="2.0"/><circle cx="402.2" cy="612.8" r="2.0"/><circle cx="389.8" cy="617.5" r="2.0"/><circle cx="392.7" cy="608.8" r="2.0"/><circle cx="387.9" cy="607.8" r="2.0"/><circle cx="386.3" cy="599.6" r="2.0"/><circle cx="382.4" cy="623.2" r="2.0"/><circle cx="395.5" cy="611.1" r="2.0"/><circle cx="384.7" cy="620.4" r="2.0"/><circle cx="385.6" cy="605.0" r="2.0"/><circle cx="390.7" cy="608.4" r="2.0"/><circle cx="401.2" cy="622.8" r="2.0"/><circle cx="379.7" cy="620.7" r="2.0"/><circle cx="397.5" cy="598.8" r="2.0"/><circle cx="391.4" cy="621.3" r="2.0"/><circle cx="379.1" cy="613.3" r="2.0"/><circle cx="403.2" cy="608.2" r="2.0"/><circle cx="401.3" cy="619.5" r="2.0"/><circle cx="385.6" cy="623.3" r="2.0"/><circle cx="383.1" cy="600.8" r="2.0"/><circle cx="396.8" cy="611.6" r="2.0"/><circle cx="397.9" cy="622.5" r="2.0"/><circle cx="399.0" cy="614.8" r="2.0"/><circle cx="393.4" cy="609.9" r="2.0"/><circle cx="399.4" cy="599.0" r="2.0"/><circle cx="403.0" cy="627.3" r="2.0"/><circle cx="387.0" cy="636.8" r="2.0"/><circle cx="385.6" cy="624.9" r="2.0"/><circle cx="397.3" cy="636.6" r="2.0"/><circle cx="380.9" cy="624.6" r="2.0"/><circle cx="394.3" cy="634.1" r="2.0"/><circle cx="384.9" cy="630.9" r="2.0"/><circle cx="379.4" cy="635.8" r="2.0"/><circle cx="391.1" cy="628.9" r="2.0"/><circle cx="395.9" cy="644.1" r="2.0"/><circle cx="391.5" cy="642.3" r="2.0"/><circle cx="385.5" cy="627.4" r="2.0"/><circle cx="397.4" cy="644.1" r="2.0"/><circle cx="379.7" cy="629.1" r="2.0"/><circle cx="396.6" cy="633.5" r="2.0"/><circle cx="385.8" cy="631.7" r="2.0"/><circle cx="403.2" cy="637.3" r="2.0"/><circle cx="380.0" cy="627.2" r="2.0"/><circle cx="390.0" cy="629.8" r="2.0"/><circle cx="384.3" cy="637.7" r="2.0"/><circle cx="398.3" cy="640.3" r="2.0"/><circle cx="384.4" cy="633.6" r="2.0"/><circle cx="387.2" cy="644.3" r="2.0"/><circle cx="385.1" cy="640.9" r="2.0"/><circle cx="398.9" cy="627.1" r="2.0"/><circle cx="403.9" cy="628.8" r="2.0"/><circle cx="384.0" cy="633.4" r="2.0"/><circle cx="389.9" cy="627.1" r="2.0"/><circle cx="403.8" cy="637.3" r="2.0"/><circle cx="389.3" cy="625.4" r="2.0"/><circle cx="404.4" cy="626.9" r="2.0"/><circle cx="380.4" cy="625.3" r="2.0"/><circle cx="389.3" cy="623.4" r="2.0"/><circle cx="402.1" cy="642.7" r="2.0"/><circle cx="405.0" cy="638.9" r="2.0"/><circle cx="387.7" cy="643.4" r="2.0"/><circle cx="403.4" cy="626.3" r="2.0"/><circle cx="379.9" cy="639.2" r="2.0"/><circle cx="388.9" cy="637.3" r="2.0"/><circle cx="387.7" cy="630.6" r="2.0"/><circle cx="379.2" cy="625.9" r="2.0"/><circle cx="388.2" cy="628.4" r="2.0"/><circle cx="382.3" cy="644.0" r="2.0"/><circle cx="384.5" cy="644.2" r="2.0"/><circle cx="400.5" cy="630.2" r="2.0"/><circle cx="390.3" cy="640.9" r="2.0"/><circle cx="391.4" cy="623.1" r="2.0"/><circle cx="403.0" cy="630.6" r="2.0"/><circle cx="388.6" cy="626.4" r="2.0"/><circle cx="379.9" cy="642.6" r="2.0"/><circle cx="400.2" cy="631.4" r="2.0"/><circle cx="380.2" cy="639.6" r="2.0"/><circle cx="380.7" cy="622.8" r="2.0"/><circle cx="385.8" cy="643.2" r="2.0"/><circle cx="402.5" cy="639.2" r="2.0"/><circle cx="386.2" cy="629.8" r="2.0"/><circle cx="395.1" cy="644.0" r="2.0"/><circle cx="397.7" cy="628.0" r="2.0"/><circle cx="386.3" cy="629.3" r="2.0"/><circle cx="398.7" cy="622.1" r="2.0"/><circle cx="395.6" cy="643.1" r="2.0"/><circle cx="379.7" cy="643.7" r="2.0"/><circle cx="391.5" cy="627.4" r="2.0"/><circle cx="403.9" cy="644.0" r="2.0"/><circle cx="385.6" cy="630.9" r="2.0"/><circle cx="391.9" cy="659.3" r="2.0"/><circle cx="383.9" cy="681.8" r="2.0"/><circle cx="398.3" cy="676.1" r="2.0"/><circle cx="399.2" cy="677.0" r="2.0"/><circle cx="387.6" cy="667.3" r="2.0"/><circle cx="388.5" cy="654.4" r="2.0"/><circle cx="381.2" cy="675.2" r="2.0"/><circle cx="398.7" cy="648.9" r="2.0"/><circle cx="380.8" cy="651.1" r="2.0"/><circle cx="393.5" cy="641.5" r="2.0"/><circle cx="404.6" cy="654.7" r="2.0"/><circle cx="404.8" cy="679.8" r="2.0"/><circle cx="381.3" cy="651.9" r="2.0"/><circle cx="392.1" cy="644.3" r="2.0"/><circle cx="390.7" cy="671.9" r="2.0"/><circle cx="389.9" cy="650.5" r="2.0"/><circle cx="396.6" cy="667.9" r="2.0"/><circle cx="401.1" cy="673.7" r="2.0"/><circle cx="382.3" cy="669.9" r="2.0"/><circle cx="386.7" cy="677.8" r="2.0"/><circle cx="388.8" cy="665.5" r="2.0"/><circle cx="384.3" cy="673.2" r="2.0"/><circle cx="385.5" cy="651.1" r="2.0"/><circle cx="402.1" cy="646.9" r="2.0"/><circle cx="387.6" cy="666.0" r="2.0"/><circle cx="404.9" cy="657.8" r="2.0"/><circle cx="385.1" cy="662.8" r="2.0"/><circle cx="396.1" cy="676.4" r="2.0"/><circle cx="381.8" cy="684.6" r="2.0"/><circle cx="400.4" cy="661.4" r="2.0"/><circle cx="402.9" cy="677.8" r="2.0"/><circle cx="386.7" cy="641.8" r="2.0"/><circle cx="384.0" cy="645.4" r="2.0"/><circle cx="394.3" cy="683.8" r="2.0"/><circle cx="388.8" cy="681.9" r="2.0"/><circle cx="390.8" cy="679.0" r="2.0"/><circle cx="399.3" cy="651.7" r="2.0"/><circle cx="381.9" cy="682.6" r="2.0"/><circle cx="395.2" cy="666.8" r="2.0"/><circle cx="388.7" cy="649.8" r="2.0"/><circle cx="384.4" cy="646.4" r="2.0"/><circle cx="394.7" cy="651.5" r="2.0"/><circle cx="384.4" cy="669.3" r="2.0"/><circle cx="387.6" cy="640.5" r="2.0"/><circle cx="383.9" cy="670.5" r="2.0"/><circle cx="384.4" cy="654.0" r="2.0"/><circle cx="393.3" cy="675.8" r="2.0"/><circle cx="381.7" cy="642.8" r="2.0"/><circle cx="393.4" cy="657.8" r="2.0"/><circle cx="381.5" cy="668.8" r="2.0"/><circle cx="397.2" cy="647.4" r="2.0"/><circle cx="386.5" cy="658.4" r="2.0"/><circle cx="403.9" cy="653.8" r="2.0"/><circle cx="393.8" cy="654.1" r="2.0"/><circle cx="389.9" cy="656.1" r="2.0"/><circle cx="405.0" cy="678.9" r="2.0"/><circle cx="384.2" cy="656.4" r="2.0"/><circle cx="384.4" cy="672.8" r="2.0"/><circle cx="402.5" cy="640.3" r="2.0"/><circle cx="400.4" cy="659.1" r="2.0"/><circle cx="402.1" cy="658.3" r="2.0"/><circle cx="383.3" cy="660.7" r="2.0"/><circle cx="393.4" cy="640.7" r="2.0"/><circle cx="402.8" cy="668.8" r="2.0"/><circle cx="395.3" cy="644.0" r="2.0"/><circle cx="392.2" cy="656.7" r="2.0"/><circle cx="386.5" cy="646.6" r="2.0"/><circle cx="403.2" cy="663.5" r="2.0"/><circle cx="391.9" cy="644.9" r="2.0"/><circle cx="404.2" cy="676.2" r="2.0"/><circle cx="382.4" cy="648.9" r="2.0"/><circle cx="404.5" cy="682.4" r="2.0"/><circle cx="380.5" cy="661.7" r="2.0"/><circle cx="389.2" cy="681.7" r="2.0"/><circle cx="395.2" cy="680.7" r="2.0"/><circle cx="383.3" cy="677.1" r="2.0"/><circle cx="384.9" cy="675.4" r="2.0"/><circle cx="401.1" cy="658.2" r="2.0"/><circle cx="383.9" cy="677.3" r="2.0"/><circle cx="389.5" cy="649.8" r="2.0"/><circle cx="389.1" cy="698.0" r="2.0"/><circle cx="385.5" cy="686.6" r="2.0"/><circle cx="402.4" cy="704.0" r="2.0"/><circle cx="393.7" cy="684.2" r="2.0"/><circle cx="380.1" cy="705.0" r="2.0"/><circle cx="382.2" cy="707.3" r="2.0"/><circle cx="393.4" cy="700.4" r="2.0"/><circle cx="387.1" cy="701.2" r="2.0"/><circle cx="394.2" cy="695.2" r="2.0"/><circle cx="396.2" cy="695.3" r="2.0"/><circle cx="390.5" cy="696.0" r="2.0"/><circle cx="395.2" cy="683.7" r="2.0"/><circle cx="385.2" cy="697.2" r="2.0"/><circle cx="399.4" cy="705.1" r="2.0"/><circle cx="383.8" cy="696.3" r="2.0"/><circle cx="381.9" cy="696.7" r="2.0"/><circle cx="390.3" cy="686.7" r="2.0"/><circle cx="390.6" cy="685.7" r="2.0"/><circle cx="380.2" cy="697.8" r="2.0"/><circle cx="381.2" cy="701.5" r="2.0"/><circle cx="399.3" cy="704.3" r="2.0"/><circle cx="380.5" cy="697.8" r="2.0"/><circle cx="388.9" cy="697.6" r="2.0"/><circle cx="382.6" cy="710.6" r="2.0"/><circle cx="405.0" cy="707.9" r="2.0"/><circle cx="400.3" cy="704.2" r="2.0"/><circle cx="404.6" cy="688.6" r="2.0"/><circle cx="404.0" cy="697.3" r="2.0"/><circle cx="383.4" cy="709.6" r="2.0"/><circle cx="403.3" cy="705.9" r="2.0"/><circle cx="388.2" cy="684.9" r="2.0"/><circle cx="383.2" cy="704.9" r="2.0"/><circle cx="386.2" cy="709.0" r="2.0"/><circle cx="382.8" cy="706.7" r="2.0"/><circle cx="403.0" cy="727.1" r="2.0"/><circle cx="385.9" cy="718.2" r="2.0"/><circle cx="387.4" cy="727.2" r="2.0"/><circle cx="383.8" cy="713.1" r="2.0"/><circle cx="403.4" cy="716.8" r="2.0"/><circle cx="402.4" cy="732.4" r="2.0"/><circle cx="399.5" cy="717.1" r="2.0"/><circle cx="392.9" cy="715.5" r="2.0"/><circle cx="388.5" cy="731.1" r="2.0"/><circle cx="393.5" cy="738.2" r="2.0"/><circle cx="402.0" cy="729.4" r="2.0"/><circle cx="404.9" cy="715.1" r="2.0"/><circle cx="389.4" cy="730.9" r="2.0"/><circle cx="386.0" cy="735.9" r="2.0"/></g>
<g clip-path="url(#cb)" fill="none" stroke="#7c7c7c" stroke-opacity="0.68" stroke-width="1.3"><circle cx="168.2" cy="596.2" r="2.0"/><circle cx="179.0" cy="602.3" r="2.0"/><circle cx="179.0" cy="611.4" r="2.0"/><circle cx="168.2" cy="615.3" r="2.0"/><circle cx="167.3" cy="624.0" r="2.0"/><circle cx="186.2" cy="627.3" r="2.0"/><circle cx="172.1" cy="633.1" r="2.0"/><circle cx="170.3" cy="638.5" r="2.0"/><circle cx="187.7" cy="634.9" r="2.0"/><circle cx="188.6" cy="633.8" r="2.0"/><circle cx="166.6" cy="644.6" r="2.0"/><circle cx="181.2" cy="651.1" r="2.0"/><circle cx="165.6" cy="663.1" r="2.0"/><circle cx="173.2" cy="666.3" r="2.0"/><circle cx="186.8" cy="668.5" r="2.0"/><circle cx="189.0" cy="670.7" r="2.0"/><circle cx="169.5" cy="683.0" r="2.0"/><circle cx="171.0" cy="685.8" r="2.0"/><circle cx="186.8" cy="690.8" r="2.0"/><circle cx="182.5" cy="726.4" r="2.0"/><circle cx="290.6" cy="574.7" r="2.0"/><circle cx="275.8" cy="587.8" r="2.0"/><circle cx="277.8" cy="592.2" r="2.0"/><circle cx="279.4" cy="595.6" r="2.0"/><circle cx="280.8" cy="599.2" r="2.0"/><circle cx="282.8" cy="604.7" r="2.0"/><circle cx="289.2" cy="605.3" r="2.0"/><circle cx="296.1" cy="603.3" r="2.0"/><circle cx="278.6" cy="613.6" r="2.0"/><circle cx="274.4" cy="617.8" r="2.0"/><circle cx="286.9" cy="611.7" r="2.0"/><circle cx="284.0" cy="617.0" r="2.0"/><circle cx="281.0" cy="615.0" r="2.0"/><circle cx="291.0" cy="616.0" r="2.0"/><circle cx="296.0" cy="618.0" r="2.0"/><circle cx="281.4" cy="684.4" r="2.0"/><circle cx="285.6" cy="683.0" r="2.0"/><circle cx="289.7" cy="685.0" r="2.0"/><circle cx="293.9" cy="685.0" r="2.0"/><circle cx="284.2" cy="690.0" r="2.0"/><circle cx="289.7" cy="690.8" r="2.0"/><circle cx="280.0" cy="694.2" r="2.0"/><circle cx="282.8" cy="699.7" r="2.0"/><circle cx="273.0" cy="700.6" r="2.0"/><circle cx="273.0" cy="703.9" r="2.0"/><circle cx="287.8" cy="704.4" r="2.0"/><circle cx="288.9" cy="713.6" r="2.0"/><circle cx="285.6" cy="716.9" r="2.0"/><circle cx="291.1" cy="720.6" r="2.0"/><circle cx="277.2" cy="722.8" r="2.0"/><circle cx="287.0" cy="754.7" r="2.0"/><circle cx="285.6" cy="756.7" r="2.0"/><circle cx="276.0" cy="678.0" r="2.0"/><circle cx="296.0" cy="680.0" r="2.0"/><circle cx="283.0" cy="680.0" r="2.0"/><circle cx="288.0" cy="663.0" r="2.0"/><circle cx="274.0" cy="656.0" r="2.0"/><circle cx="278.6" cy="628.3" r="2.0"/><circle cx="279.9" cy="661.6" r="2.0"/><circle cx="272.3" cy="651.8" r="2.0"/><circle cx="279.0" cy="623.4" r="2.0"/><circle cx="290.0" cy="657.6" r="2.0"/><circle cx="279.6" cy="657.8" r="2.0"/><circle cx="284.1" cy="648.9" r="2.0"/><circle cx="275.1" cy="646.1" r="2.0"/><circle cx="277.2" cy="670.0" r="2.0"/><circle cx="296.3" cy="674.8" r="2.0"/><circle cx="283.9" cy="621.0" r="2.0"/><circle cx="297.2" cy="665.9" r="2.0"/><circle cx="279.0" cy="645.2" r="2.0"/><circle cx="296.6" cy="631.8" r="2.0"/><circle cx="287.1" cy="631.8" r="2.0"/><circle cx="285.6" cy="627.9" r="2.0"/><circle cx="275.4" cy="673.4" r="2.0"/><circle cx="285.2" cy="665.9" r="2.0"/><circle cx="290.3" cy="669.7" r="2.0"/><circle cx="295.3" cy="633.0" r="2.0"/><circle cx="272.6" cy="647.2" r="2.0"/><circle cx="284.8" cy="620.2" r="2.0"/><circle cx="279.9" cy="645.2" r="2.0"/><circle cx="280.9" cy="627.9" r="2.0"/><circle cx="293.8" cy="637.7" r="2.0"/><circle cx="291.5" cy="620.1" r="2.0"/><circle cx="275.1" cy="667.0" r="2.0"/><circle cx="290.5" cy="671.9" r="2.0"/><circle cx="279.5" cy="670.5" r="2.0"/><circle cx="282.2" cy="640.8" r="2.0"/><circle cx="287.3" cy="675.9" r="2.0"/><circle cx="283.1" cy="640.2" r="2.0"/><circle cx="273.3" cy="635.4" r="2.0"/><circle cx="293.7" cy="625.7" r="2.0"/><circle cx="296.3" cy="636.0" r="2.0"/><circle cx="278.9" cy="634.0" r="2.0"/><circle cx="276.9" cy="648.6" r="2.0"/><circle cx="296.9" cy="640.9" r="2.0"/><circle cx="293.1" cy="669.5" r="2.0"/><circle cx="295.7" cy="655.3" r="2.0"/><circle cx="286.3" cy="672.7" r="2.0"/><circle cx="273.3" cy="660.3" r="2.0"/><circle cx="283.7" cy="661.0" r="2.0"/><circle cx="288.8" cy="662.1" r="2.0"/><circle cx="273.3" cy="636.0" r="2.0"/><circle cx="275.3" cy="671.9" r="2.0"/><circle cx="280.9" cy="646.4" r="2.0"/><circle cx="291.2" cy="636.7" r="2.0"/><circle cx="278.8" cy="674.7" r="2.0"/><circle cx="279.8" cy="656.7" r="2.0"/><circle cx="282.3" cy="651.2" r="2.0"/><circle cx="276.2" cy="629.4" r="2.0"/><circle cx="295.6" cy="631.6" r="2.0"/><circle cx="387.3" cy="530.4" r="2.0"/><circle cx="382.5" cy="761.2" r="2.0"/><circle cx="387.3" cy="746.9" r="2.0"/><circle cx="385.0" cy="576.0" r="2.0"/><circle cx="388.0" cy="575.5" r="2.0"/><circle cx="401.0" cy="579.0" r="2.0"/><circle cx="399.5" cy="743.7" r="2.0"/><circle cx="387.1" cy="588.9" r="2.0"/><circle cx="401.0" cy="597.9" r="2.0"/><circle cx="385.6" cy="587.9" r="2.0"/><circle cx="384.7" cy="582.2" r="2.0"/><circle cx="384.7" cy="585.5" r="2.0"/><circle cx="387.8" cy="583.3" r="2.0"/><circle cx="402.2" cy="612.8" r="2.0"/><circle cx="389.8" cy="617.5" r="2.0"/><circle cx="392.7" cy="608.8" r="2.0"/><circle cx="387.9" cy="607.8" r="2.0"/><circle cx="386.3" cy="599.6" r="2.0"/><circle cx="382.4" cy="623.2" r="2.0"/><circle cx="395.5" cy="611.1" r="2.0"/><circle cx="384.7" cy="620.4" r="2.0"/><circle cx="385.6" cy="605.0" r="2.0"/><circle cx="390.7" cy="608.4" r="2.0"/><circle cx="401.2" cy="622.8" r="2.0"/><circle cx="379.7" cy="620.7" r="2.0"/><circle cx="397.5" cy="598.8" r="2.0"/><circle cx="391.4" cy="621.3" r="2.0"/><circle cx="379.1" cy="613.3" r="2.0"/><circle cx="403.2" cy="608.2" r="2.0"/><circle cx="401.3" cy="619.5" r="2.0"/><circle cx="385.6" cy="623.3" r="2.0"/><circle cx="383.1" cy="600.8" r="2.0"/><circle cx="396.8" cy="611.6" r="2.0"/><circle cx="397.9" cy="622.5" r="2.0"/><circle cx="399.0" cy="614.8" r="2.0"/><circle cx="393.4" cy="609.9" r="2.0"/><circle cx="399.4" cy="599.0" r="2.0"/><circle cx="403.0" cy="627.3" r="2.0"/><circle cx="387.0" cy="636.8" r="2.0"/><circle cx="385.6" cy="624.9" r="2.0"/><circle cx="397.3" cy="636.6" r="2.0"/><circle cx="380.9" cy="624.6" r="2.0"/><circle cx="394.3" cy="634.1" r="2.0"/><circle cx="384.9" cy="630.9" r="2.0"/><circle cx="379.4" cy="635.8" r="2.0"/><circle cx="391.1" cy="628.9" r="2.0"/><circle cx="395.9" cy="644.1" r="2.0"/><circle cx="391.5" cy="642.3" r="2.0"/><circle cx="385.5" cy="627.4" r="2.0"/><circle cx="397.4" cy="644.1" r="2.0"/><circle cx="379.7" cy="629.1" r="2.0"/><circle cx="396.6" cy="633.5" r="2.0"/><circle cx="385.8" cy="631.7" r="2.0"/><circle cx="403.2" cy="637.3" r="2.0"/><circle cx="380.0" cy="627.2" r="2.0"/><circle cx="390.0" cy="629.8" r="2.0"/><circle cx="384.3" cy="637.7" r="2.0"/><circle cx="398.3" cy="640.3" r="2.0"/><circle cx="384.4" cy="633.6" r="2.0"/><circle cx="387.2" cy="644.3" r="2.0"/><circle cx="385.1" cy="640.9" r="2.0"/><circle cx="398.9" cy="627.1" r="2.0"/><circle cx="403.9" cy="628.8" r="2.0"/><circle cx="384.0" cy="633.4" r="2.0"/><circle cx="389.9" cy="627.1" r="2.0"/><circle cx="403.8" cy="637.3" r="2.0"/><circle cx="389.3" cy="625.4" r="2.0"/><circle cx="404.4" cy="626.9" r="2.0"/><circle cx="380.4" cy="625.3" r="2.0"/><circle cx="389.3" cy="623.4" r="2.0"/><circle cx="402.1" cy="642.7" r="2.0"/><circle cx="405.0" cy="638.9" r="2.0"/><circle cx="387.7" cy="643.4" r="2.0"/><circle cx="403.4" cy="626.3" r="2.0"/><circle cx="379.9" cy="639.2" r="2.0"/><circle cx="388.9" cy="637.3" r="2.0"/><circle cx="387.7" cy="630.6" r="2.0"/><circle cx="379.2" cy="625.9" r="2.0"/><circle cx="388.2" cy="628.4" r="2.0"/><circle cx="382.3" cy="644.0" r="2.0"/><circle cx="384.5" cy="644.2" r="2.0"/><circle cx="400.5" cy="630.2" r="2.0"/><circle cx="390.3" cy="640.9" r="2.0"/><circle cx="391.4" cy="623.1" r="2.0"/><circle cx="403.0" cy="630.6" r="2.0"/><circle cx="388.6" cy="626.4" r="2.0"/><circle cx="379.9" cy="642.6" r="2.0"/><circle cx="400.2" cy="631.4" r="2.0"/><circle cx="380.2" cy="639.6" r="2.0"/><circle cx="380.7" cy="622.8" r="2.0"/><circle cx="385.8" cy="643.2" r="2.0"/><circle cx="402.5" cy="639.2" r="2.0"/><circle cx="386.2" cy="629.8" r="2.0"/><circle cx="395.1" cy="644.0" r="2.0"/><circle cx="397.7" cy="628.0" r="2.0"/><circle cx="386.3" cy="629.3" r="2.0"/><circle cx="398.7" cy="622.1" r="2.0"/><circle cx="395.6" cy="643.1" r="2.0"/><circle cx="379.7" cy="643.7" r="2.0"/><circle cx="391.5" cy="627.4" r="2.0"/><circle cx="403.9" cy="644.0" r="2.0"/><circle cx="385.6" cy="630.9" r="2.0"/><circle cx="391.9" cy="659.3" r="2.0"/><circle cx="383.9" cy="681.8" r="2.0"/><circle cx="398.3" cy="676.1" r="2.0"/><circle cx="399.2" cy="677.0" r="2.0"/><circle cx="387.6" cy="667.3" r="2.0"/><circle cx="388.5" cy="654.4" r="2.0"/><circle cx="381.2" cy="675.2" r="2.0"/><circle cx="398.7" cy="648.9" r="2.0"/><circle cx="380.8" cy="651.1" r="2.0"/><circle cx="393.5" cy="641.5" r="2.0"/><circle cx="404.6" cy="654.7" r="2.0"/><circle cx="404.8" cy="679.8" r="2.0"/><circle cx="381.3" cy="651.9" r="2.0"/><circle cx="392.1" cy="644.3" r="2.0"/><circle cx="390.7" cy="671.9" r="2.0"/><circle cx="389.9" cy="650.5" r="2.0"/><circle cx="396.6" cy="667.9" r="2.0"/><circle cx="401.1" cy="673.7" r="2.0"/><circle cx="382.3" cy="669.9" r="2.0"/><circle cx="386.7" cy="677.8" r="2.0"/><circle cx="388.8" cy="665.5" r="2.0"/><circle cx="384.3" cy="673.2" r="2.0"/><circle cx="385.5" cy="651.1" r="2.0"/><circle cx="402.1" cy="646.9" r="2.0"/><circle cx="387.6" cy="666.0" r="2.0"/><circle cx="404.9" cy="657.8" r="2.0"/><circle cx="385.1" cy="662.8" r="2.0"/><circle cx="396.1" cy="676.4" r="2.0"/><circle cx="381.8" cy="684.6" r="2.0"/><circle cx="400.4" cy="661.4" r="2.0"/><circle cx="402.9" cy="677.8" r="2.0"/><circle cx="386.7" cy="641.8" r="2.0"/><circle cx="384.0" cy="645.4" r="2.0"/><circle cx="394.3" cy="683.8" r="2.0"/><circle cx="388.8" cy="681.9" r="2.0"/><circle cx="390.8" cy="679.0" r="2.0"/><circle cx="399.3" cy="651.7" r="2.0"/><circle cx="381.9" cy="682.6" r="2.0"/><circle cx="395.2" cy="666.8" r="2.0"/><circle cx="388.7" cy="649.8" r="2.0"/><circle cx="384.4" cy="646.4" r="2.0"/><circle cx="394.7" cy="651.5" r="2.0"/><circle cx="384.4" cy="669.3" r="2.0"/><circle cx="387.6" cy="640.5" r="2.0"/><circle cx="383.9" cy="670.5" r="2.0"/><circle cx="384.4" cy="654.0" r="2.0"/><circle cx="393.3" cy="675.8" r="2.0"/><circle cx="381.7" cy="642.8" r="2.0"/><circle cx="393.4" cy="657.8" r="2.0"/><circle cx="381.5" cy="668.8" r="2.0"/><circle cx="397.2" cy="647.4" r="2.0"/><circle cx="386.5" cy="658.4" r="2.0"/><circle cx="403.9" cy="653.8" r="2.0"/><circle cx="393.8" cy="654.1" r="2.0"/><circle cx="389.9" cy="656.1" r="2.0"/><circle cx="405.0" cy="678.9" r="2.0"/><circle cx="384.2" cy="656.4" r="2.0"/><circle cx="384.4" cy="672.8" r="2.0"/><circle cx="402.5" cy="640.3" r="2.0"/><circle cx="400.4" cy="659.1" r="2.0"/><circle cx="402.1" cy="658.3" r="2.0"/><circle cx="383.3" cy="660.7" r="2.0"/><circle cx="393.4" cy="640.7" r="2.0"/><circle cx="402.8" cy="668.8" r="2.0"/><circle cx="395.3" cy="644.0" r="2.0"/><circle cx="392.2" cy="656.7" r="2.0"/><circle cx="386.5" cy="646.6" r="2.0"/><circle cx="403.2" cy="663.5" r="2.0"/><circle cx="391.9" cy="644.9" r="2.0"/><circle cx="404.2" cy="676.2" r="2.0"/><circle cx="382.4" cy="648.9" r="2.0"/><circle cx="404.5" cy="682.4" r="2.0"/><circle cx="380.5" cy="661.7" r="2.0"/><circle cx="389.2" cy="681.7" r="2.0"/><circle cx="395.2" cy="680.7" r="2.0"/><circle cx="383.3" cy="677.1" r="2.0"/><circle cx="384.9" cy="675.4" r="2.0"/><circle cx="401.1" cy="658.2" r="2.0"/><circle cx="383.9" cy="677.3" r="2.0"/><circle cx="389.5" cy="649.8" r="2.0"/><circle cx="389.1" cy="698.0" r="2.0"/><circle cx="385.5" cy="686.6" r="2.0"/><circle cx="402.4" cy="704.0" r="2.0"/><circle cx="393.7" cy="684.2" r="2.0"/><circle cx="380.1" cy="705.0" r="2.0"/><circle cx="382.2" cy="707.3" r="2.0"/><circle cx="393.4" cy="700.4" r="2.0"/><circle cx="387.1" cy="701.2" r="2.0"/><circle cx="394.2" cy="695.2" r="2.0"/><circle cx="396.2" cy="695.3" r="2.0"/><circle cx="390.5" cy="696.0" r="2.0"/><circle cx="395.2" cy="683.7" r="2.0"/><circle cx="385.2" cy="697.2" r="2.0"/><circle cx="399.4" cy="705.1" r="2.0"/><circle cx="383.8" cy="696.3" r="2.0"/><circle cx="381.9" cy="696.7" r="2.0"/><circle cx="390.3" cy="686.7" r="2.0"/><circle cx="390.6" cy="685.7" r="2.0"/><circle cx="380.2" cy="697.8" r="2.0"/><circle cx="381.2" cy="701.5" r="2.0"/><circle cx="399.3" cy="704.3" r="2.0"/><circle cx="380.5" cy="697.8" r="2.0"/><circle cx="388.9" cy="697.6" r="2.0"/><circle cx="382.6" cy="710.6" r="2.0"/><circle cx="405.0" cy="707.9" r="2.0"/><circle cx="400.3" cy="704.2" r="2.0"/><circle cx="404.6" cy="688.6" r="2.0"/><circle cx="404.0" cy="697.3" r="2.0"/><circle cx="383.4" cy="709.6" r="2.0"/><circle cx="403.3" cy="705.9" r="2.0"/><circle cx="388.2" cy="684.9" r="2.0"/><circle cx="383.2" cy="704.9" r="2.0"/><circle cx="386.2" cy="709.0" r="2.0"/><circle cx="382.8" cy="706.7" r="2.0"/><circle cx="403.0" cy="727.1" r="2.0"/><circle cx="385.9" cy="718.2" r="2.0"/><circle cx="387.4" cy="727.2" r="2.0"/><circle cx="383.8" cy="713.1" r="2.0"/><circle cx="403.4" cy="716.8" r="2.0"/><circle cx="402.4" cy="732.4" r="2.0"/><circle cx="399.5" cy="717.1" r="2.0"/><circle cx="392.9" cy="715.5" r="2.0"/><circle cx="388.5" cy="731.1" r="2.0"/><circle cx="393.5" cy="738.2" r="2.0"/><circle cx="402.0" cy="729.4" r="2.0"/><circle cx="404.9" cy="715.1" r="2.0"/><circle cx="389.4" cy="730.9" r="2.0"/><circle cx="386.0" cy="735.9" r="2.0"/></g>
<line x1="129.1" y1="644.6" x2="225.9" y2="644.6" stroke="#000" stroke-width="2.6"/>
<line x1="236.9" y1="651.1" x2="333.6" y2="651.1" stroke="#000" stroke-width="2.6"/>
<line x1="343.8" y1="657.3" x2="441.1" y2="657.3" stroke="#000" stroke-width="2.6"/>
<line x1="118.5" y1="497.6" x2="118.5" y2="786.4" stroke="#000" stroke-width="2.8"/>
<line x1="117.3" y1="785.4" x2="452.6" y2="785.4" stroke="#000" stroke-width="2.3"/>
<line x1="112.0" y1="497.6" x2="118.5" y2="497.6" stroke="#000" stroke-width="2.1" stroke-linecap="round"/>
<line x1="112.0" y1="529.4" x2="118.5" y2="529.4" stroke="#000" stroke-width="2.1" stroke-linecap="round"/>
<text transform="translate(108.20,539.60) scale(1,1.035)" font-family="Liberation Sans, sans-serif" font-size="27.8" font-weight="bold" text-anchor="end">0.2</text>
<line x1="112.0" y1="593.4" x2="118.5" y2="593.4" stroke="#000" stroke-width="2.1" stroke-linecap="round"/>
<text transform="translate(108.20,603.60) scale(1,1.035)" font-family="Liberation Sans, sans-serif" font-size="27.8" font-weight="bold" text-anchor="end">0.1</text>
<line x1="112.0" y1="657.2" x2="118.5" y2="657.2" stroke="#000" stroke-width="2.1" stroke-linecap="round"/>
<text transform="translate(108.20,667.40) scale(1,1.035)" font-family="Liberation Sans, sans-serif" font-size="27.8" font-weight="bold" text-anchor="end">0.0</text>
<line x1="112.0" y1="721.3" x2="118.5" y2="721.3" stroke="#000" stroke-width="2.1" stroke-linecap="round"/>
<text transform="translate(108.20,731.50) scale(1,1.035)" font-family="Liberation Sans, sans-serif" font-size="27.8" font-weight="bold" text-anchor="end">-0.1</text>
<line x1="112.0" y1="785.4" x2="118.5" y2="785.4" stroke="#000" stroke-width="2.1" stroke-linecap="round"/>
<text transform="translate(108.20,795.60) scale(1,1.035)" font-family="Liberation Sans, sans-serif" font-size="27.8" font-weight="bold" text-anchor="end">-0.2</text>
<line x1="118.5" y1="785.4" x2="118.5" y2="790.9" stroke="#000" stroke-width="2" stroke-linecap="round"/>
<line x1="177.9" y1="785.4" x2="177.9" y2="790.9" stroke="#000" stroke-width="2" stroke-linecap="round"/>
<line x1="285" y1="785.4" x2="285" y2="790.9" stroke="#000" stroke-width="2" stroke-linecap="round"/>
<line x1="392.1" y1="785.4" x2="392.1" y2="790.9" stroke="#000" stroke-width="2" stroke-linecap="round"/>
<line x1="451.6" y1="785.4" x2="451.6" y2="790.9" stroke="#000" stroke-width="2" stroke-linecap="round"/>
<text transform="translate(177.60,823.80) scale(1,1.035)" font-family="Liberation Sans, sans-serif" font-size="34" text-anchor="middle">TT</text>
<text transform="translate(285.80,823.80) scale(1,1.035)" font-family="Liberation Sans, sans-serif" font-size="34" text-anchor="middle">CT</text>
<text transform="translate(395.10,823.80) scale(1,1.035)" font-family="Liberation Sans, sans-serif" font-size="34" text-anchor="middle">CC</text>
<line x1="714" y1="74.7" x2="714" y2="698.5" stroke="#000" stroke-width="5" stroke-linecap="round"/>
<line x1="702" y1="698.3" x2="1336.8" y2="698.3" stroke="#000" stroke-width="5" stroke-linecap="round"/>
<line x1="702" y1="131.6" x2="714" y2="131.6" stroke="#000" stroke-width="5" stroke-linecap="round"/>
<line x1="702" y1="244.8" x2="714" y2="244.8" stroke="#000" stroke-width="5" stroke-linecap="round"/>
<line x1="702" y1="358.0" x2="714" y2="358.0" stroke="#000" stroke-width="5" stroke-linecap="round"/>
<line x1="702" y1="471.1" x2="714" y2="471.1" stroke="#000" stroke-width="5" stroke-linecap="round"/>
<line x1="702" y1="584.3" x2="714" y2="584.3" stroke="#000" stroke-width="5" stroke-linecap="round"/>
<line x1="714.0" y1="698.3" x2="714.0" y2="709" stroke="#000" stroke-width="5" stroke-linecap="round"/>
<line x1="838.5" y1="698.3" x2="838.5" y2="709" stroke="#000" stroke-width="5" stroke-linecap="round"/>
<line x1="963.0" y1="698.3" x2="963.0" y2="709" stroke="#000" stroke-width="5" stroke-linecap="round"/>
<line x1="1087.5" y1="698.3" x2="1087.5" y2="709" stroke="#000" stroke-width="5" stroke-linecap="round"/>
<line x1="1212.0" y1="698.3" x2="1212.0" y2="709" stroke="#000" stroke-width="5" stroke-linecap="round"/>
<line x1="1336.5" y1="698.3" x2="1336.5" y2="709" stroke="#000" stroke-width="5" stroke-linecap="round"/>
<text transform="translate(698.40,144.10) scale(1,1.035)" font-family="Liberation Sans, sans-serif" font-size="35.8" text-anchor="end">100</text>
<text transform="translate(698.40,257.28) scale(1,1.035)" font-family="Liberation Sans, sans-serif" font-size="35.8" text-anchor="end">80</text>
<text transform="translate(698.40,370.46) scale(1,1.035)" font-family="Liberation Sans, sans-serif" font-size="35.8" text-anchor="end">60</text>
<text transform="translate(698.40,483.64) scale(1,1.035)" font-family="Liberation Sans, sans-serif" font-size="35.8" text-anchor="end">40</text>
<text transform="translate(698.40,596.82) scale(1,1.035)" font-family="Liberation Sans, sans-serif" font-size="35.8" text-anchor="end">20</text>
<text transform="translate(698.40,710.00) scale(1,1.035)" font-family="Liberation Sans, sans-serif" font-size="35.8" text-anchor="end">0</text>
<text transform="translate(714.00,744.80) scale(1,1.035)" font-family="Liberation Sans, sans-serif" font-size="35.8" text-anchor="middle">0</text>
<text transform="translate(837.30,744.80) scale(1,1.035)" font-family="Liberation Sans, sans-serif" font-size="35.8" text-anchor="middle">24</text>
<text transform="translate(961.80,744.80) scale(1,1.035)" font-family="Liberation Sans, sans-serif" font-size="35.8" text-anchor="middle">48</text>
<text transform="translate(1086.30,744.80) scale(1,1.035)" font-family="Liberation Sans, sans-serif" font-size="35.8" text-anchor="middle">72</text>
<text transform="translate(1210.80,744.80) scale(1,1.035)" font-family="Liberation Sans, sans-serif" font-size="35.8" text-anchor="middle">96</text>
<text transform="translate(1336.50,744.80) scale(1,1.035)" font-family="Liberation Sans, sans-serif" font-size="35.8" text-anchor="middle">120</text>
<text transform="translate(1025.80,804.40) scale(1,1.035)" font-family="Liberation Sans, sans-serif" font-size="35.4" text-anchor="middle">Time (months)</text>
<rect x="880" y="806.3" width="300" height="23" fill="#fff"/>
<text transform="translate(619.00,382.80) rotate(-90) scale(1,1.035)" font-family="Liberation Sans, sans-serif" font-size="35.4" text-anchor="middle">Probability of DFS</text>
<text transform="translate(970.60,144.60) scale(1,1.035)" font-family="Liberation Sans, sans-serif" font-size="38.1">Log Rank <tspan font-style="italic">P</tspan> = 0.05</text>
<rect x="775.8" y="558.3" width="25.2" height="25.6" fill="#0000b4" stroke="#000" stroke-width="2"/>
<rect x="775.8" y="612" width="25.2" height="25.6" fill="#f98080" stroke="#000" stroke-width="2"/>
<text transform="translate(828.00,584.00) scale(1,1.035)" font-family="Liberation Sans, sans-serif" font-size="34.5">rs619289 CC</text>
<text transform="translate(828.00,637.50) scale(1,1.035)" font-family="Liberation Sans, sans-serif" font-size="34.5">rs619289 CT + TT</text>
<polyline points="714.0,132.0 714.0,162.0 717.7,162.0 722.5,162.0 722.5,164.0 729.3,164.0 729.3,167.0 731.2,167.0 731.2,170.0 739.0,170.0 739.0,173.0 742.8,173.0 742.8,175.5 750.5,175.5 750.5,177.5 753.4,177.5 753.4,181.0 758.3,181.0 758.3,185.0 760.2,185.0 760.2,188.0 767.9,188.0 767.9,189.0 769.8,189.0 769.8,195.0 777.6,195.0 777.6,199.0 780.0,199.0 780.0,202.0 786.0,202.0 786.0,205.5 792.0,205.5 792.0,209.0 798.0,209.0 798.0,212.0 804.0,212.0 804.0,215.0 810.1,215.0 810.1,217.5 816.2,217.5 816.2,220.0 821.0,220.0 821.0,224.5 825.8,224.5 825.8,229.0 831.8,229.0 831.8,233.0 837.9,233.0 837.9,237.0 844.0,237.0 844.0,242.2 850.0,242.2 850.0,247.5 856.0,247.5 856.0,252.5 862.0,252.5 862.0,257.5 868.0,257.5 868.0,258.2 874.0,258.2 874.0,258.8 880.0,258.8 880.0,259.5 883.7,259.5 883.7,264.0 890.7,264.0 890.7,265.0 897.7,265.0 897.7,266.0 904.3,266.0 904.3,276.5 915.9,276.5 917.4,276.5 917.4,286.6 924.6,286.6 924.6,292.4 931.9,292.4 931.9,301.1 937.6,301.1 937.6,304.7 946.3,304.7 946.3,305.4 949.2,305.4 949.2,309.1 955.0,309.1 955.0,309.8 960.8,309.8 960.8,310.5 962.3,310.5 962.3,314.1 986.9,314.1 989.8,314.1 989.8,318.8 1005.7,318.8 1008.6,318.8 1008.6,324.2 1030.3,324.2 1031.3,324.2 1031.3,345.3 1080.5,345.3 1082.3,345.3 1082.3,354.9 1091.4,354.9 1093.2,354.9 1093.2,363.6 1156.5,363.6 1157.0,375.0 1191.5,375.0 1192.4,375.0 1192.4,415.8 1308.0,415.8" fill="none" stroke="#f88080" stroke-width="8" stroke-linejoin="round" stroke-linecap="round"/>
<rect x="713.4" y="151.5" width="2.2" height="12" fill="#000"/>
<rect x="714.9" y="151.5" width="2.2" height="12" fill="#000"/>
<rect x="718.6" y="151.5" width="2.2" height="12" fill="#000"/>
<rect x="721.9" y="153.5" width="2.2" height="12" fill="#000"/>
<rect x="725.8" y="153.5" width="2.2" height="12" fill="#000"/>
<rect x="728.9" y="156.5" width="2.2" height="12" fill="#000"/>
<rect x="732.1" y="159.5" width="2.2" height="12" fill="#000"/>
<rect x="734.9" y="159.5" width="2.2" height="12" fill="#000"/>
<rect x="737.9" y="159.5" width="2.2" height="12" fill="#000"/>
<rect x="740.8" y="162.5" width="2.2" height="12" fill="#000"/>
<rect x="743.9" y="165.0" width="2.2" height="12" fill="#000"/>
<rect x="747.9" y="165.0" width="2.2" height="12" fill="#000"/>
<rect x="751.4" y="167.0" width="2.2" height="12" fill="#000"/>
<rect x="752.9" y="170.5" width="2.2" height="12" fill="#000"/>
<rect x="754.3" y="170.5" width="2.2" height="12" fill="#000"/>
<rect x="757.2" y="170.5" width="2.2" height="12" fill="#000"/>
<rect x="758.7" y="174.5" width="2.2" height="12" fill="#000"/>
<rect x="767.8" y="178.5" width="2.2" height="12" fill="#000"/>
<rect x="770.2" y="184.5" width="2.2" height="12" fill="#000"/>
<rect x="774.3" y="184.5" width="2.2" height="12" fill="#000"/>
<rect x="781.5" y="191.5" width="2.2" height="12" fill="#000"/>
<rect x="786.7" y="195.0" width="2.2" height="12" fill="#000"/>
<rect x="791.6" y="198.5" width="2.2" height="12" fill="#000"/>
<rect x="795.2" y="198.5" width="2.2" height="12" fill="#000"/>
<rect x="800.0" y="201.5" width="2.2" height="12" fill="#000"/>
<rect x="804.2" y="204.5" width="2.2" height="12" fill="#000"/>
<rect x="805.9" y="204.5" width="2.2" height="12" fill="#000"/>
<rect x="808.5" y="204.5" width="2.2" height="12" fill="#000"/>
<rect x="815.1" y="207.0" width="2.2" height="12" fill="#000"/>
<rect x="819.9" y="209.5" width="2.2" height="12" fill="#000"/>
<rect x="823.5" y="214.0" width="2.2" height="12" fill="#000"/>
<rect x="828.4" y="218.5" width="2.2" height="12" fill="#000"/>
<rect x="833.2" y="222.5" width="2.2" height="12" fill="#000"/>
<rect x="839.2" y="226.5" width="2.2" height="12" fill="#000"/>
<rect x="842.8" y="226.5" width="2.2" height="12" fill="#000"/>
<rect x="847.1" y="231.8" width="2.2" height="12" fill="#000"/>
<rect x="851.3" y="237.0" width="2.2" height="12" fill="#000"/>
<rect x="857.3" y="242.0" width="2.2" height="12" fill="#000"/>
<rect x="860.9" y="242.0" width="2.2" height="12" fill="#000"/>
<rect x="863.3" y="247.0" width="2.2" height="12" fill="#000"/>
<rect x="866.9" y="247.0" width="2.2" height="12" fill="#000"/>
<rect x="869.4" y="247.7" width="2.2" height="12" fill="#000"/>
<rect x="871.9" y="247.7" width="2.2" height="12" fill="#000"/>
<rect x="874.4" y="248.3" width="2.2" height="12" fill="#000"/>
<rect x="876.9" y="248.3" width="2.2" height="12" fill="#000"/>
<rect x="878.9" y="248.3" width="2.2" height="12" fill="#000"/>
<rect x="883.9" y="253.5" width="2.2" height="12" fill="#000"/>
<rect x="889.3" y="253.5" width="2.2" height="12" fill="#000"/>
<rect x="894.1" y="254.5" width="2.2" height="12" fill="#000"/>
<rect x="897.7" y="255.5" width="2.2" height="12" fill="#000"/>
<rect x="898.9" y="255.5" width="2.2" height="12" fill="#000"/>
<rect x="904.7" y="266.0" width="2.2" height="12" fill="#000"/>
<rect x="906.4" y="266.0" width="2.2" height="12" fill="#000"/>
<rect x="907.6" y="266.0" width="2.2" height="12" fill="#000"/>
<rect x="917.7" y="276.1" width="2.2" height="12" fill="#000"/>
<rect x="922.8" y="276.1" width="2.2" height="12" fill="#000"/>
<rect x="924.9" y="281.9" width="2.2" height="12" fill="#000"/>
<rect x="927.9" y="281.9" width="2.2" height="12" fill="#000"/>
<rect x="930.8" y="281.9" width="2.2" height="12" fill="#000"/>
<rect x="932.9" y="290.6" width="2.2" height="12" fill="#000"/>
<rect x="935.1" y="290.6" width="2.2" height="12" fill="#000"/>
<rect x="938.0" y="294.2" width="2.2" height="12" fill="#000"/>
<rect x="943.8" y="294.2" width="2.2" height="12" fill="#000"/>
<rect x="949.6" y="298.6" width="2.2" height="12" fill="#000"/>
<rect x="953.9" y="298.6" width="2.2" height="12" fill="#000"/>
<rect x="956.1" y="299.3" width="2.2" height="12" fill="#000"/>
<rect x="959.0" y="299.3" width="2.2" height="12" fill="#000"/>
<rect x="962.6" y="303.6" width="2.2" height="12" fill="#000"/>
<rect x="966.2" y="303.6" width="2.2" height="12" fill="#000"/>
<rect x="971.3" y="303.6" width="2.2" height="12" fill="#000"/>
<rect x="973.5" y="303.6" width="2.2" height="12" fill="#000"/>
<rect x="981.4" y="303.6" width="2.2" height="12" fill="#000"/>
<rect x="989.4" y="308.3" width="2.2" height="12" fill="#000"/>
<rect x="991.4" y="308.3" width="2.2" height="12" fill="#000"/>
<rect x="993.7" y="308.3" width="2.2" height="12" fill="#000"/>
<rect x="1006.1" y="308.3" width="2.2" height="12" fill="#000"/>
<rect x="1009.7" y="313.7" width="2.2" height="12" fill="#000"/>
<rect x="1014.7" y="313.7" width="2.2" height="12" fill="#000"/>
<rect x="1026.3" y="313.7" width="2.2" height="12" fill="#000"/>
<rect x="1029.9" y="313.7" width="2.2" height="12" fill="#000"/>
<rect x="1031.9" y="334.8" width="2.2" height="12" fill="#000"/>
<rect x="1033.6" y="334.8" width="2.2" height="12" fill="#000"/>
<rect x="1043.7" y="334.8" width="2.2" height="12" fill="#000"/>
<rect x="1056.7" y="334.8" width="2.2" height="12" fill="#000"/>
<rect x="1069.4" y="334.8" width="2.2" height="12" fill="#000"/>
<rect x="1073.9" y="334.8" width="2.2" height="12" fill="#000"/>
<rect x="1076.2" y="334.8" width="2.2" height="12" fill="#000"/>
<rect x="1078.5" y="334.8" width="2.2" height="12" fill="#000"/>
<rect x="1081.2" y="334.8" width="2.2" height="12" fill="#000"/>
<rect x="1091.2" y="344.4" width="2.2" height="12" fill="#000"/>
<rect x="1107.5" y="353.1" width="2.2" height="12" fill="#000"/>
<rect x="1118.3" y="353.1" width="2.2" height="12" fill="#000"/>
<rect x="1120.8" y="353.1" width="2.2" height="12" fill="#000"/>
<rect x="1123.3" y="353.1" width="2.2" height="12" fill="#000"/>
<rect x="1125.8" y="353.1" width="2.2" height="12" fill="#000"/>
<rect x="1128.3" y="353.1" width="2.2" height="12" fill="#000"/>
<rect x="1133.7" y="353.1" width="2.2" height="12" fill="#000"/>
<rect x="1138.2" y="353.1" width="2.2" height="12" fill="#000"/>
<rect x="1151.8" y="353.1" width="2.2" height="12" fill="#000"/>
<rect x="1155.4" y="353.1" width="2.2" height="12" fill="#000"/>
<rect x="1157.0" y="364.5" width="2.2" height="12" fill="#000"/>
<rect x="1161.9" y="364.5" width="2.2" height="12" fill="#000"/>
<rect x="1163.9" y="364.5" width="2.2" height="12" fill="#000"/>
<rect x="1173.7" y="364.5" width="2.2" height="12" fill="#000"/>
<rect x="1182.3" y="364.5" width="2.2" height="12" fill="#000"/>
<rect x="1183.9" y="364.5" width="2.2" height="12" fill="#000"/>
<rect x="1186.0" y="364.5" width="2.2" height="12" fill="#000"/>
<rect x="1190.9" y="364.5" width="2.2" height="12" fill="#000"/>
<rect x="1196.1" y="405.3" width="2.2" height="12" fill="#000"/>
<rect x="1205.1" y="405.3" width="2.2" height="12" fill="#000"/>
<rect x="1206.2" y="405.3" width="2.2" height="12" fill="#000"/>
<rect x="1207.5" y="405.3" width="2.2" height="12" fill="#000"/>
<rect x="1213.7" y="405.3" width="2.2" height="12" fill="#000"/>
<rect x="1224.6" y="405.3" width="2.2" height="12" fill="#000"/>
<rect x="1228.7" y="405.3" width="2.2" height="12" fill="#000"/>
<rect x="1268.6" y="405.3" width="2.2" height="12" fill="#000"/>
<rect x="1288.7" y="405.3" width="2.2" height="12" fill="#000"/>
<rect x="1307.7" y="405.3" width="2.2" height="12" fill="#000"/>
<polyline points="719.0,153.5 724.0,153.5 724.0,155.5 729.0,155.5 729.0,157.5 737.0,157.5 737.0,162.0 744.0,162.0 744.0,166.5 750.5,166.5 750.5,170.4 758.0,170.4 758.0,175.0 766.0,175.0 766.0,179.0 773.0,179.0 773.0,185.0 779.5,185.0 779.5,188.0 787.0,188.0 787.0,192.6 792.0,192.6 792.0,195.7 798.0,195.7 798.0,199.3 804.0,199.3 804.0,202.9 810.0,202.9 810.0,206.4 816.0,206.4 816.0,210.0 822.0,210.0 822.0,213.7 828.0,213.7 828.0,217.4 834.0,217.4 834.0,219.2 840.0,219.2 840.0,221.0 846.0,221.0 846.0,223.4 852.0,223.4 852.0,225.8 858.0,225.8 858.0,228.7 864.0,228.7 864.0,231.5 870.0,231.5 870.0,234.8 876.0,234.8 876.0,238.0 882.5,238.0 882.5,241.2 889.0,241.2 889.0,244.5 895.6,244.5 895.6,244.2 902.1,244.2 902.1,243.8 908.7,243.8 908.7,243.5 914.5,243.5 914.5,251.1 921.7,251.1 921.7,252.6 929.0,252.6 929.0,254.8 937.6,254.8 937.6,259.1 942.0,259.1 942.0,264.2 950.7,264.2 950.7,266.3 957.9,266.3 957.9,271.4 965.2,271.4 965.2,273.6 970.7,273.6 970.7,273.8 976.1,273.8 976.1,274.1 981.5,274.1 981.5,274.3 987.0,274.3 987.0,274.5 989.8,274.5 989.8,276.5 1010.0,276.5 1013.0,276.5 1013.0,279.5 1018.0,279.5 1018.0,280.9 1023.0,280.9 1023.0,282.3 1027.4,282.3 1027.4,286.6 1032.5,286.6 1032.5,290.8 1037.6,290.8 1037.6,295.0 1046.2,295.0 1046.2,296.7 1052.0,296.7 1052.0,303.0 1057.0,303.0 1057.0,311.4 1099.0,311.4 1102.0,311.4 1102.0,316.6 1161.0,316.6 1162.5,316.6 1162.5,338.4 1276.8,338.4" fill="none" stroke="#0000d8" stroke-width="7.8" stroke-linejoin="round" stroke-linecap="round"/>
<rect x="718.4" y="143.0" width="2.2" height="12" fill="#000"/>
<rect x="720.4" y="143.0" width="2.2" height="12" fill="#000"/>
<rect x="722.9" y="143.0" width="2.2" height="12" fill="#000"/>
<rect x="724.9" y="145.0" width="2.2" height="12" fill="#000"/>
<rect x="726.9" y="145.0" width="2.2" height="12" fill="#000"/>
<rect x="729.9" y="147.0" width="2.2" height="12" fill="#000"/>
<rect x="732.9" y="147.0" width="2.2" height="12" fill="#000"/>
<rect x="735.9" y="147.0" width="2.2" height="12" fill="#000"/>
<rect x="737.9" y="151.5" width="2.2" height="12" fill="#000"/>
<rect x="739.9" y="151.5" width="2.2" height="12" fill="#000"/>
<rect x="741.9" y="151.5" width="2.2" height="12" fill="#000"/>
<rect x="743.9" y="156.0" width="2.2" height="12" fill="#000"/>
<rect x="745.9" y="156.0" width="2.2" height="12" fill="#000"/>
<rect x="747.9" y="156.0" width="2.2" height="12" fill="#000"/>
<rect x="749.9" y="159.9" width="2.2" height="12" fill="#000"/>
<rect x="751.9" y="159.9" width="2.2" height="12" fill="#000"/>
<rect x="753.9" y="159.9" width="2.2" height="12" fill="#000"/>
<rect x="755.9" y="159.9" width="2.2" height="12" fill="#000"/>
<rect x="757.9" y="164.5" width="2.2" height="12" fill="#000"/>
<rect x="760.9" y="164.5" width="2.2" height="12" fill="#000"/>
<rect x="763.9" y="164.5" width="2.2" height="12" fill="#000"/>
<rect x="766.9" y="168.5" width="2.2" height="12" fill="#000"/>
<rect x="769.9" y="168.5" width="2.2" height="12" fill="#000"/>
<rect x="772.9" y="174.5" width="2.2" height="12" fill="#000"/>
<rect x="775.9" y="174.5" width="2.2" height="12" fill="#000"/>
<rect x="778.9" y="177.5" width="2.2" height="12" fill="#000"/>
<rect x="780.9" y="177.5" width="2.2" height="12" fill="#000"/>
<rect x="782.9" y="177.5" width="2.2" height="12" fill="#000"/>
<rect x="784.9" y="177.5" width="2.2" height="12" fill="#000"/>
<rect x="786.9" y="182.1" width="2.2" height="12" fill="#000"/>
<rect x="788.9" y="182.1" width="2.2" height="12" fill="#000"/>
<rect x="790.9" y="182.1" width="2.2" height="12" fill="#000"/>
<rect x="794.6" y="185.2" width="2.2" height="12" fill="#000"/>
<rect x="796.4" y="185.2" width="2.2" height="12" fill="#000"/>
<rect x="799.4" y="188.8" width="2.2" height="12" fill="#000"/>
<rect x="801.9" y="188.8" width="2.2" height="12" fill="#000"/>
<rect x="803.9" y="192.4" width="2.2" height="12" fill="#000"/>
<rect x="805.9" y="192.4" width="2.2" height="12" fill="#000"/>
<rect x="808.9" y="192.4" width="2.2" height="12" fill="#000"/>
<rect x="809.9" y="195.9" width="2.2" height="12" fill="#000"/>
<rect x="812.4" y="195.9" width="2.2" height="12" fill="#000"/>
<rect x="814.9" y="195.9" width="2.2" height="12" fill="#000"/>
<rect x="818.9" y="199.5" width="2.2" height="12" fill="#000"/>
<rect x="820.9" y="199.5" width="2.2" height="12" fill="#000"/>
<rect x="822.9" y="203.2" width="2.2" height="12" fill="#000"/>
<rect x="824.9" y="203.2" width="2.2" height="12" fill="#000"/>
<rect x="826.9" y="203.2" width="2.2" height="12" fill="#000"/>
<rect x="828.9" y="206.9" width="2.2" height="12" fill="#000"/>
<rect x="830.9" y="206.9" width="2.2" height="12" fill="#000"/>
<rect x="832.9" y="206.9" width="2.2" height="12" fill="#000"/>
<rect x="835.9" y="208.7" width="2.2" height="12" fill="#000"/>
<rect x="837.9" y="208.7" width="2.2" height="12" fill="#000"/>
<rect x="839.9" y="210.5" width="2.2" height="12" fill="#000"/>
<rect x="841.9" y="210.5" width="2.2" height="12" fill="#000"/>
<rect x="843.9" y="210.5" width="2.2" height="12" fill="#000"/>
<rect x="847.9" y="212.9" width="2.2" height="12" fill="#000"/>
<rect x="850.9" y="212.9" width="2.2" height="12" fill="#000"/>
<rect x="852.5" y="215.3" width="2.2" height="12" fill="#000"/>
<rect x="854.4" y="215.3" width="2.2" height="12" fill="#000"/>
<rect x="856.4" y="215.3" width="2.2" height="12" fill="#000"/>
<rect x="858.4" y="218.2" width="2.2" height="12" fill="#000"/>
<rect x="859.9" y="218.2" width="2.2" height="12" fill="#000"/>
<rect x="861.9" y="218.2" width="2.2" height="12" fill="#000"/>
<rect x="864.5" y="221.0" width="2.2" height="12" fill="#000"/>
<rect x="867.9" y="221.0" width="2.2" height="12" fill="#000"/>
<rect x="870.6" y="224.2" width="2.2" height="12" fill="#000"/>
<rect x="873.9" y="224.2" width="2.2" height="12" fill="#000"/>
<rect x="875.9" y="227.5" width="2.2" height="12" fill="#000"/>
<rect x="878.9" y="227.5" width="2.2" height="12" fill="#000"/>
<rect x="883.9" y="230.8" width="2.2" height="12" fill="#000"/>
<rect x="887.5" y="230.8" width="2.2" height="12" fill="#000"/>
<rect x="891.9" y="234.0" width="2.2" height="12" fill="#000"/>
<rect x="893.9" y="234.0" width="2.2" height="12" fill="#000"/>
<rect x="896.9" y="233.7" width="2.2" height="12" fill="#000"/>
<rect x="910.5" y="233.0" width="2.2" height="12" fill="#000"/>
<rect x="911.9" y="233.0" width="2.2" height="12" fill="#000"/>
<rect x="913.4" y="233.0" width="2.2" height="12" fill="#000"/>
<rect x="921.3" y="242.1" width="2.2" height="12" fill="#000"/>
<rect x="924.2" y="242.1" width="2.2" height="12" fill="#000"/>
<rect x="929.9" y="244.3" width="2.2" height="12" fill="#000"/>
<rect x="931.9" y="244.3" width="2.2" height="12" fill="#000"/>
<rect x="934.4" y="244.3" width="2.2" height="12" fill="#000"/>
<rect x="939.4" y="248.6" width="2.2" height="12" fill="#000"/>
<rect x="942.3" y="253.7" width="2.2" height="12" fill="#000"/>
<rect x="945.2" y="253.7" width="2.2" height="12" fill="#000"/>
<rect x="949.6" y="253.7" width="2.2" height="12" fill="#000"/>
<rect x="951.9" y="255.8" width="2.2" height="12" fill="#000"/>
<rect x="953.9" y="255.8" width="2.2" height="12" fill="#000"/>
<rect x="959.7" y="260.9" width="2.2" height="12" fill="#000"/>
<rect x="961.9" y="260.9" width="2.2" height="12" fill="#000"/>
<rect x="963.9" y="260.9" width="2.2" height="12" fill="#000"/>
<rect x="965.9" y="263.1" width="2.2" height="12" fill="#000"/>
<rect x="967.9" y="263.1" width="2.2" height="12" fill="#000"/>
<rect x="969.9" y="263.3" width="2.2" height="12" fill="#000"/>
<rect x="971.9" y="263.3" width="2.2" height="12" fill="#000"/>
<rect x="974.2" y="263.3" width="2.2" height="12" fill="#000"/>
<rect x="977.9" y="263.6" width="2.2" height="12" fill="#000"/>
<rect x="986.5" y="264.0" width="2.2" height="12" fill="#000"/>
<rect x="988.9" y="266.0" width="2.2" height="12" fill="#000"/>
<rect x="990.9" y="266.0" width="2.2" height="12" fill="#000"/>
<rect x="997.4" y="266.0" width="2.2" height="12" fill="#000"/>
<rect x="999.4" y="266.0" width="2.2" height="12" fill="#000"/>
<rect x="1001.7" y="266.0" width="2.2" height="12" fill="#000"/>
<rect x="1007.5" y="266.0" width="2.2" height="12" fill="#000"/>
<rect x="1009.4" y="266.0" width="2.2" height="12" fill="#000"/>
<rect x="1011.4" y="266.0" width="2.2" height="12" fill="#000"/>
<rect x="1013.3" y="269.0" width="2.2" height="12" fill="#000"/>
<rect x="1017.6" y="270.4" width="2.2" height="12" fill="#000"/>
<rect x="1019.9" y="270.4" width="2.2" height="12" fill="#000"/>
<rect x="1022.4" y="271.8" width="2.2" height="12" fill="#000"/>
<rect x="1024.9" y="271.8" width="2.2" height="12" fill="#000"/>
<rect x="1029.2" y="276.1" width="2.2" height="12" fill="#000"/>
<rect x="1032.1" y="280.3" width="2.2" height="12" fill="#000"/>
<rect x="1036.5" y="280.3" width="2.2" height="12" fill="#000"/>
<rect x="1038.9" y="284.5" width="2.2" height="12" fill="#000"/>
<rect x="1040.9" y="284.5" width="2.2" height="12" fill="#000"/>
<rect x="1045.1" y="284.5" width="2.2" height="12" fill="#000"/>
<rect x="1050.9" y="286.2" width="2.2" height="12" fill="#000"/>
<rect x="1052.4" y="292.5" width="2.2" height="12" fill="#000"/>
<rect x="1056.7" y="300.9" width="2.2" height="12" fill="#000"/>
<rect x="1063.1" y="300.9" width="2.2" height="12" fill="#000"/>
<rect x="1065.4" y="300.9" width="2.2" height="12" fill="#000"/>
<rect x="1067.4" y="300.9" width="2.2" height="12" fill="#000"/>
<rect x="1069.4" y="300.9" width="2.2" height="12" fill="#000"/>
<rect x="1071.4" y="300.9" width="2.2" height="12" fill="#000"/>
<rect x="1073.4" y="300.9" width="2.2" height="12" fill="#000"/>
<rect x="1075.4" y="300.9" width="2.2" height="12" fill="#000"/>
<rect x="1077.4" y="300.9" width="2.2" height="12" fill="#000"/>
<rect x="1079.4" y="300.9" width="2.2" height="12" fill="#000"/>
<rect x="1082.9" y="300.9" width="2.2" height="12" fill="#000"/>
<rect x="1084.9" y="300.9" width="2.2" height="12" fill="#000"/>
<rect x="1087.4" y="300.9" width="2.2" height="12" fill="#000"/>
<rect x="1090.3" y="300.9" width="2.2" height="12" fill="#000"/>
<rect x="1095.7" y="300.9" width="2.2" height="12" fill="#000"/>
<rect x="1097.9" y="300.9" width="2.2" height="12" fill="#000"/>
<rect x="1100.4" y="300.9" width="2.2" height="12" fill="#000"/>
<rect x="1102.9" y="306.1" width="2.2" height="12" fill="#000"/>
<rect x="1104.7" y="306.1" width="2.2" height="12" fill="#000"/>
<rect x="1106.5" y="306.1" width="2.2" height="12" fill="#000"/>
<rect x="1115.6" y="306.1" width="2.2" height="12" fill="#000"/>
<rect x="1117.4" y="306.1" width="2.2" height="12" fill="#000"/>
<rect x="1122.9" y="306.1" width="2.2" height="12" fill="#000"/>
<rect x="1125.4" y="306.1" width="2.2" height="12" fill="#000"/>
<rect x="1127.9" y="306.1" width="2.2" height="12" fill="#000"/>
<rect x="1129.9" y="306.1" width="2.2" height="12" fill="#000"/>
<rect x="1133.7" y="306.1" width="2.2" height="12" fill="#000"/>
<rect x="1137.3" y="306.1" width="2.2" height="12" fill="#000"/>
<rect x="1139.9" y="306.1" width="2.2" height="12" fill="#000"/>
<rect x="1142.4" y="306.1" width="2.2" height="12" fill="#000"/>
<rect x="1144.6" y="306.1" width="2.2" height="12" fill="#000"/>
<rect x="1146.4" y="306.1" width="2.2" height="12" fill="#000"/>
<rect x="1153.6" y="306.1" width="2.2" height="12" fill="#000"/>
<rect x="1160.3" y="306.1" width="2.2" height="12" fill="#000"/>
<rect x="1168.4" y="327.9" width="2.2" height="12" fill="#000"/>
<rect x="1171.7" y="327.9" width="2.2" height="12" fill="#000"/>
<rect x="1185.5" y="327.9" width="2.2" height="12" fill="#000"/>
<rect x="1188.0" y="327.9" width="2.2" height="12" fill="#000"/>
<rect x="1190.4" y="327.9" width="2.2" height="12" fill="#000"/>
<rect x="1192.9" y="327.9" width="2.2" height="12" fill="#000"/>
<rect x="1195.3" y="327.9" width="2.2" height="12" fill="#000"/>
<rect x="1196.9" y="327.9" width="2.2" height="12" fill="#000"/>
<rect x="1203.5" y="327.9" width="2.2" height="12" fill="#000"/>
<rect x="1207.5" y="327.9" width="2.2" height="12" fill="#000"/>
<rect x="1212.4" y="327.9" width="2.2" height="12" fill="#000"/>
<rect x="1219.8" y="327.9" width="2.2" height="12" fill="#000"/>
<rect x="1223.8" y="327.9" width="2.2" height="12" fill="#000"/>
<rect x="1225.5" y="327.9" width="2.2" height="12" fill="#000"/>
<rect x="1227.1" y="327.9" width="2.2" height="12" fill="#000"/>
<rect x="1229.5" y="327.9" width="2.2" height="12" fill="#000"/>
<rect x="1249.1" y="327.9" width="2.2" height="12" fill="#000"/>
<rect x="1250.7" y="327.9" width="2.2" height="12" fill="#000"/>
<rect x="1254.8" y="327.9" width="2.2" height="12" fill="#000"/>
<rect x="1263.7" y="327.9" width="2.2" height="12" fill="#000"/>
<rect x="1275.9" y="327.9" width="2.2" height="12" fill="#000"/>
</svg>
</body></html>
